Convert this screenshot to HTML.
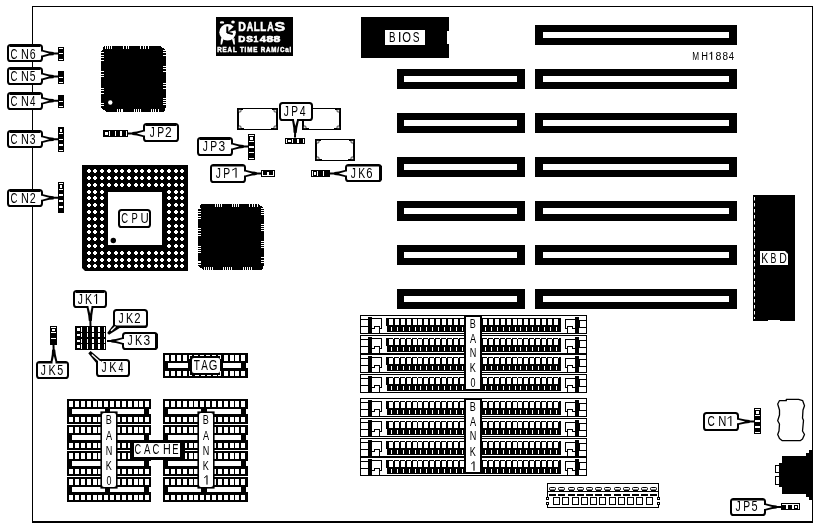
<!DOCTYPE html>
<html><head><meta charset="utf-8"><style>
html,body{margin:0;padding:0;background:#fff;width:818px;height:527px;overflow:hidden}
svg{display:block;will-change:transform}
text{font-family:"Liberation Sans",sans-serif}
</style></head><body>
<svg width="818" height="527" viewBox="0 0 818 527">
<rect x="0" y="0" width="818" height="527" fill="#fff"/>
<rect x="32" y="6" width="781" height="1" fill="#000" />
<rect x="32" y="6" width="1" height="517" fill="#000" />
<rect x="812" y="6" width="1" height="517" fill="#000" />
<rect x="32" y="521" width="781" height="2" fill="#000" />
<rect x="535" y="25" width="202" height="20" fill="#000" />
<rect x="543" y="32" width="186" height="6" fill="#fff" />
<rect x="535" y="69" width="202" height="20" fill="#000" />
<rect x="543" y="76" width="186" height="6" fill="#fff" />
<rect x="397" y="69" width="128" height="20" fill="#000" />
<rect x="404" y="76" width="113" height="6" fill="#fff" />
<rect x="535" y="113" width="202" height="20" fill="#000" />
<rect x="543" y="120" width="186" height="6" fill="#fff" />
<rect x="397" y="113" width="128" height="20" fill="#000" />
<rect x="404" y="120" width="113" height="6" fill="#fff" />
<rect x="535" y="157" width="202" height="20" fill="#000" />
<rect x="543" y="164" width="186" height="6" fill="#fff" />
<rect x="397" y="157" width="128" height="20" fill="#000" />
<rect x="404" y="164" width="113" height="6" fill="#fff" />
<rect x="535" y="201" width="202" height="20" fill="#000" />
<rect x="543" y="208" width="186" height="6" fill="#fff" />
<rect x="397" y="201" width="128" height="20" fill="#000" />
<rect x="404" y="208" width="113" height="6" fill="#fff" />
<rect x="535" y="245" width="202" height="20" fill="#000" />
<rect x="543" y="252" width="186" height="6" fill="#fff" />
<rect x="397" y="245" width="128" height="20" fill="#000" />
<rect x="404" y="252" width="113" height="6" fill="#fff" />
<rect x="535" y="289" width="202" height="20" fill="#000" />
<rect x="543" y="296" width="186" height="6" fill="#fff" />
<rect x="397" y="289" width="128" height="20" fill="#000" />
<rect x="404" y="296" width="113" height="6" fill="#fff" />
<text transform="translate(692.33,59.80) scale(0.707,1)" font-size="11.63" fill="#000" >M</text>
<text transform="translate(701.14,59.80) scale(0.800,1)" font-size="11.63" fill="#000" >H</text>
<rect x="711.10" y="51.80" width="1.1" height="8.00" fill="#000"/>
<line x1="709.50" y1="54.20" x2="711.40" y2="52.20" stroke="#000" stroke-width="1"/>
<text transform="translate(715.54,59.80) scale(0.928,1)" font-size="11.46" fill="#000" >8</text>
<text transform="translate(722.57,59.80) scale(0.873,1)" font-size="11.46" fill="#000" >8</text>
<text transform="translate(728.78,59.80) scale(0.819,1)" font-size="11.63" fill="#000" >4</text>
<rect x="361" y="17" width="88" height="41" fill="#000" />
<rect x="447" y="31" width="2" height="13" fill="#fff" />
<rect x="385" y="30" width="40" height="15" fill="#fff" />
<text transform="translate(389.00,41.80) scale(0.679,1)" font-size="14.39" fill="#000" >B</text>
<text transform="translate(397.73,41.80) scale(0.961,1)" font-size="14.39" fill="#000" >I</text>
<text transform="translate(402.37,41.80) scale(0.795,1)" font-size="14.18" fill="#000" >O</text>
<text transform="translate(412.84,41.80) scale(0.711,1)" font-size="14.18" fill="#000" >S</text>
<rect x="216" y="17" width="77" height="39" fill="#000" />
<text transform="translate(238.29,30.50) scale(0.811,1)" font-size="13.08" fill="#fff" font-weight="bold" stroke="#fff" stroke-width="0.6">D</text>
<text transform="translate(246.78,30.50) scale(0.684,1)" font-size="13.08" fill="#fff" font-weight="bold" stroke="#fff" stroke-width="0.6">A</text>
<text transform="translate(253.85,30.50) scale(0.745,1)" font-size="13.08" fill="#fff" font-weight="bold" stroke="#fff" stroke-width="0.6">L</text>
<text transform="translate(260.35,30.50) scale(0.745,1)" font-size="13.08" fill="#fff" font-weight="bold" stroke="#fff" stroke-width="0.6">L</text>
<text transform="translate(267.28,30.50) scale(0.684,1)" font-size="13.08" fill="#fff" font-weight="bold" stroke="#fff" stroke-width="0.6">A</text>
<text transform="translate(274.54,30.50) scale(1.230,1)" font-size="12.89" fill="#fff" font-weight="bold" stroke="#fff" stroke-width="0.6">S</text>
<text transform="translate(238.34,41.60) scale(0.990,1)" font-size="9.88" fill="#fff" font-weight="bold" stroke="#fff" stroke-width="0.7">D</text>
<text transform="translate(246.21,41.60) scale(1.028,1)" font-size="9.74" fill="#fff" font-weight="bold" stroke="#fff" stroke-width="0.7">S</text>
<text transform="translate(253.46,41.60) scale(0.870,1)" font-size="9.88" fill="#fff" font-weight="bold" stroke="#fff" stroke-width="0.7">1</text>
<text transform="translate(259.83,41.60) scale(1.133,1)" font-size="9.88" fill="#fff" font-weight="bold" stroke="#fff" stroke-width="0.7">4</text>
<text transform="translate(266.61,41.60) scale(1.249,1)" font-size="9.74" fill="#fff" font-weight="bold" stroke="#fff" stroke-width="0.7">8</text>
<text transform="translate(273.61,41.60) scale(1.249,1)" font-size="9.74" fill="#fff" font-weight="bold" stroke="#fff" stroke-width="0.7">8</text>
<text transform="translate(217.3,51.7) scale(0.86,1)" font-size="7.2" font-weight="bold" fill="#fff" stroke="#fff" stroke-width="0.5" textLength="86" lengthAdjust="spacing">REAL TIME RAM/Cal</text>
<circle cx="227.6" cy="32.3" r="8.3" fill="#fff"/>
<polygon points="227.60,32.30 236.50,24.00 236.50,30.00" fill="#000" />
<rect x="226.3" y="26.5" width="2" height="6.5" fill="#000" />
<polygon points="227.00,31.50 233.00,33.00 232.50,35.00 227.00,33.50" fill="#000" />
<ellipse cx="222" cy="22.4" rx="2.2" ry="1.2" fill="#fff"/>
<ellipse cx="233" cy="22" rx="1.8" ry="1.5" fill="#fff"/>
<polygon points="221.00,38.00 223.50,39.00 222.00,44.50 220.50,44.50" fill="#fff" />
<polygon points="232.00,39.00 234.50,38.00 235.00,44.50 233.50,44.50" fill="#fff" />
<polygon points="104.00,46.00 160.00,46.00 163.00,48.00 166.00,50.00 166.00,107.00 164.00,112.00 107.00,112.00 104.00,110.00 101.00,108.00 101.00,51.00 103.00,49.00" fill="#000" shape-rendering="crispEdges"/>
<rect x="105" y="46" width="1" height="3" fill="#fff" />
<rect x="107" y="46" width="1" height="3" fill="#fff" />
<rect x="109" y="46" width="1" height="3" fill="#fff" />
<rect x="111" y="46" width="1" height="3" fill="#fff" />
<rect x="123" y="46" width="1" height="3" fill="#fff" />
<rect x="126" y="46" width="1" height="3" fill="#fff" />
<rect x="128" y="46" width="1" height="3" fill="#fff" />
<rect x="140" y="46" width="1" height="3" fill="#fff" />
<rect x="143" y="46" width="1" height="3" fill="#fff" />
<rect x="145" y="46" width="1" height="3" fill="#fff" />
<rect x="148" y="46" width="1" height="3" fill="#fff" />
<rect x="117" y="109" width="1" height="3" fill="#fff" />
<rect x="119" y="109" width="1" height="3" fill="#fff" />
<rect x="121" y="109" width="1" height="3" fill="#fff" />
<rect x="122" y="109" width="1" height="3" fill="#fff" />
<rect x="134" y="109" width="1" height="3" fill="#fff" />
<rect x="136" y="109" width="1" height="3" fill="#fff" />
<rect x="138" y="109" width="1" height="3" fill="#fff" />
<rect x="140" y="109" width="1" height="3" fill="#fff" />
<rect x="151" y="109" width="1" height="3" fill="#fff" />
<rect x="153" y="109" width="1" height="3" fill="#fff" />
<rect x="155" y="109" width="1" height="3" fill="#fff" />
<rect x="158" y="109" width="1" height="3" fill="#fff" />
<rect x="101" y="52" width="3" height="1" fill="#fff" />
<rect x="101" y="55" width="3" height="1" fill="#fff" />
<rect x="101" y="57" width="3" height="1" fill="#fff" />
<rect x="101" y="60" width="3" height="1" fill="#fff" />
<rect x="101" y="71" width="3" height="1" fill="#fff" />
<rect x="101" y="74" width="3" height="1" fill="#fff" />
<rect x="101" y="76" width="3" height="1" fill="#fff" />
<rect x="101" y="88" width="3" height="1" fill="#fff" />
<rect x="101" y="90" width="3" height="1" fill="#fff" />
<rect x="101" y="93" width="3" height="1" fill="#fff" />
<rect x="101" y="103" width="3" height="1" fill="#fff" />
<rect x="101" y="105" width="3" height="1" fill="#fff" />
<rect x="163" y="50" width="3" height="1" fill="#fff" />
<rect x="163" y="52" width="3" height="1" fill="#fff" />
<rect x="163" y="55" width="3" height="1" fill="#fff" />
<rect x="163" y="66" width="3" height="1" fill="#fff" />
<rect x="163" y="68" width="3" height="1" fill="#fff" />
<rect x="163" y="71" width="3" height="1" fill="#fff" />
<rect x="163" y="83" width="3" height="1" fill="#fff" />
<rect x="163" y="85" width="3" height="1" fill="#fff" />
<rect x="163" y="88" width="3" height="1" fill="#fff" />
<rect x="163" y="98" width="3" height="1" fill="#fff" />
<rect x="163" y="100" width="3" height="1" fill="#fff" />
<rect x="163" y="102" width="3" height="1" fill="#fff" />
<rect x="163" y="104" width="3" height="1" fill="#fff" />
<circle cx="110.3" cy="102.5" r="2.2" fill="#fff"/>
<polygon points="201.00,204.00 258.00,204.00 261.00,206.00 264.00,208.00 264.00,265.00 262.00,270.00 204.00,270.00 201.00,268.00 198.00,266.00 198.00,209.00 200.00,207.00" fill="#000" shape-rendering="crispEdges"/>
<rect x="215" y="204" width="1" height="3" fill="#fff" />
<rect x="217" y="204" width="1" height="3" fill="#fff" />
<rect x="219" y="204" width="1" height="3" fill="#fff" />
<rect x="221" y="204" width="1" height="3" fill="#fff" />
<rect x="232" y="204" width="1" height="3" fill="#fff" />
<rect x="234" y="204" width="1" height="3" fill="#fff" />
<rect x="236" y="204" width="1" height="3" fill="#fff" />
<rect x="238" y="204" width="1" height="3" fill="#fff" />
<rect x="249" y="204" width="1" height="3" fill="#fff" />
<rect x="252" y="204" width="1" height="3" fill="#fff" />
<rect x="254" y="204" width="1" height="3" fill="#fff" />
<rect x="257" y="204" width="1" height="3" fill="#fff" />
<rect x="204" y="267" width="1" height="3" fill="#fff" />
<rect x="206" y="267" width="1" height="3" fill="#fff" />
<rect x="208" y="267" width="1" height="3" fill="#fff" />
<rect x="210" y="267" width="1" height="3" fill="#fff" />
<rect x="212" y="267" width="1" height="3" fill="#fff" />
<rect x="223" y="267" width="1" height="3" fill="#fff" />
<rect x="225" y="267" width="1" height="3" fill="#fff" />
<rect x="227" y="267" width="1" height="3" fill="#fff" />
<rect x="229" y="267" width="1" height="3" fill="#fff" />
<rect x="231" y="267" width="1" height="3" fill="#fff" />
<rect x="243" y="267" width="1" height="3" fill="#fff" />
<rect x="245" y="267" width="1" height="3" fill="#fff" />
<rect x="247" y="267" width="1" height="3" fill="#fff" />
<rect x="249" y="267" width="1" height="3" fill="#fff" />
<rect x="251" y="267" width="1" height="3" fill="#fff" />
<rect x="198" y="208" width="3" height="1" fill="#fff" />
<rect x="198" y="211" width="3" height="1" fill="#fff" />
<rect x="198" y="213" width="3" height="1" fill="#fff" />
<rect x="198" y="216" width="3" height="1" fill="#fff" />
<rect x="198" y="218" width="3" height="1" fill="#fff" />
<rect x="198" y="228" width="3" height="1" fill="#fff" />
<rect x="198" y="230" width="3" height="1" fill="#fff" />
<rect x="198" y="233" width="3" height="1" fill="#fff" />
<rect x="198" y="235" width="3" height="1" fill="#fff" />
<rect x="198" y="246" width="3" height="1" fill="#fff" />
<rect x="198" y="248" width="3" height="1" fill="#fff" />
<rect x="198" y="250" width="3" height="1" fill="#fff" />
<rect x="198" y="252" width="3" height="1" fill="#fff" />
<rect x="198" y="261" width="3" height="1" fill="#fff" />
<rect x="198" y="262" width="3" height="1" fill="#fff" />
<rect x="198" y="264" width="3" height="1" fill="#fff" />
<rect x="261" y="208" width="3" height="1" fill="#fff" />
<rect x="261" y="210" width="3" height="1" fill="#fff" />
<rect x="261" y="212" width="3" height="1" fill="#fff" />
<rect x="261" y="214" width="3" height="1" fill="#fff" />
<rect x="261" y="224" width="3" height="1" fill="#fff" />
<rect x="261" y="226" width="3" height="1" fill="#fff" />
<rect x="261" y="228" width="3" height="1" fill="#fff" />
<rect x="261" y="230" width="3" height="1" fill="#fff" />
<rect x="261" y="241" width="3" height="1" fill="#fff" />
<rect x="261" y="243" width="3" height="1" fill="#fff" />
<rect x="261" y="245" width="3" height="1" fill="#fff" />
<rect x="261" y="247" width="3" height="1" fill="#fff" />
<rect x="261" y="257" width="3" height="1" fill="#fff" />
<rect x="261" y="260" width="3" height="1" fill="#fff" />
<rect x="261" y="262" width="3" height="1" fill="#fff" />
<rect x="82" y="165" width="106" height="106" fill="#000" />
<rect x="108" y="192" width="54" height="53" fill="#fff" />
<polygon points="81.50,267.50 85.50,271.50 81.50,271.50" fill="#fff" />
<path d="M87,170h4v2h-4z M88,169h2v4h-2z M87,177h4v2h-4z M88,176h2v4h-2z M87,184h4v2h-4z M88,183h2v4h-2z M87,191h4v2h-4z M88,190h2v4h-2z M87,197h4v2h-4z M88,196h2v4h-2z M87,204h4v2h-4z M88,203h2v4h-2z M87,211h4v2h-4z M88,210h2v4h-2z M87,218h4v2h-4z M88,217h2v4h-2z M87,225h4v2h-4z M88,224h2v4h-2z M87,231h4v2h-4z M88,230h2v4h-2z M87,238h4v2h-4z M88,237h2v4h-2z M87,245h4v2h-4z M88,244h2v4h-2z M87,252h4v2h-4z M88,251h2v4h-2z M87,259h4v2h-4z M88,258h2v4h-2z M87,265h4v2h-4z M88,264h2v4h-2z M93,170h4v2h-4z M94,169h2v4h-2z M93,177h4v2h-4z M94,176h2v4h-2z M93,184h4v2h-4z M94,183h2v4h-2z M93,191h4v2h-4z M94,190h2v4h-2z M93,197h4v2h-4z M94,196h2v4h-2z M93,204h4v2h-4z M94,203h2v4h-2z M93,211h4v2h-4z M94,210h2v4h-2z M93,218h4v2h-4z M94,217h2v4h-2z M93,225h4v2h-4z M94,224h2v4h-2z M93,231h4v2h-4z M94,230h2v4h-2z M93,238h4v2h-4z M94,237h2v4h-2z M93,245h4v2h-4z M94,244h2v4h-2z M93,252h4v2h-4z M94,251h2v4h-2z M93,259h4v2h-4z M94,258h2v4h-2z M93,265h4v2h-4z M94,264h2v4h-2z M100,170h4v2h-4z M101,169h2v4h-2z M100,177h4v2h-4z M101,176h2v4h-2z M100,184h4v2h-4z M101,183h2v4h-2z M100,191h4v2h-4z M101,190h2v4h-2z M100,197h4v2h-4z M101,196h2v4h-2z M100,204h4v2h-4z M101,203h2v4h-2z M100,211h4v2h-4z M101,210h2v4h-2z M100,218h4v2h-4z M101,217h2v4h-2z M100,225h4v2h-4z M101,224h2v4h-2z M100,231h4v2h-4z M101,230h2v4h-2z M100,238h4v2h-4z M101,237h2v4h-2z M100,245h4v2h-4z M101,244h2v4h-2z M100,252h4v2h-4z M101,251h2v4h-2z M100,259h4v2h-4z M101,258h2v4h-2z M100,265h4v2h-4z M101,264h2v4h-2z M107,170h4v2h-4z M108,169h2v4h-2z M107,177h4v2h-4z M108,176h2v4h-2z M107,184h4v2h-4z M108,183h2v4h-2z M107,252h4v2h-4z M108,251h2v4h-2z M107,259h4v2h-4z M108,258h2v4h-2z M107,265h4v2h-4z M108,264h2v4h-2z M114,170h4v2h-4z M115,169h2v4h-2z M114,177h4v2h-4z M115,176h2v4h-2z M114,184h4v2h-4z M115,183h2v4h-2z M114,252h4v2h-4z M115,251h2v4h-2z M114,259h4v2h-4z M115,258h2v4h-2z M114,265h4v2h-4z M115,264h2v4h-2z M120,170h4v2h-4z M121,169h2v4h-2z M120,177h4v2h-4z M121,176h2v4h-2z M120,184h4v2h-4z M121,183h2v4h-2z M120,252h4v2h-4z M121,251h2v4h-2z M120,259h4v2h-4z M121,258h2v4h-2z M120,265h4v2h-4z M121,264h2v4h-2z M127,170h4v2h-4z M128,169h2v4h-2z M127,177h4v2h-4z M128,176h2v4h-2z M127,184h4v2h-4z M128,183h2v4h-2z M127,252h4v2h-4z M128,251h2v4h-2z M127,259h4v2h-4z M128,258h2v4h-2z M127,265h4v2h-4z M128,264h2v4h-2z M134,170h4v2h-4z M135,169h2v4h-2z M134,177h4v2h-4z M135,176h2v4h-2z M134,184h4v2h-4z M135,183h2v4h-2z M134,252h4v2h-4z M135,251h2v4h-2z M134,259h4v2h-4z M135,258h2v4h-2z M134,265h4v2h-4z M135,264h2v4h-2z M140,170h4v2h-4z M141,169h2v4h-2z M140,177h4v2h-4z M141,176h2v4h-2z M140,184h4v2h-4z M141,183h2v4h-2z M140,252h4v2h-4z M141,251h2v4h-2z M140,259h4v2h-4z M141,258h2v4h-2z M140,265h4v2h-4z M141,264h2v4h-2z M147,170h4v2h-4z M148,169h2v4h-2z M147,177h4v2h-4z M148,176h2v4h-2z M147,184h4v2h-4z M148,183h2v4h-2z M147,252h4v2h-4z M148,251h2v4h-2z M147,259h4v2h-4z M148,258h2v4h-2z M147,265h4v2h-4z M148,264h2v4h-2z M154,170h4v2h-4z M155,169h2v4h-2z M154,177h4v2h-4z M155,176h2v4h-2z M154,184h4v2h-4z M155,183h2v4h-2z M154,252h4v2h-4z M155,251h2v4h-2z M154,259h4v2h-4z M155,258h2v4h-2z M154,265h4v2h-4z M155,264h2v4h-2z M160,170h4v2h-4z M161,169h2v4h-2z M160,177h4v2h-4z M161,176h2v4h-2z M160,184h4v2h-4z M161,183h2v4h-2z M160,252h4v2h-4z M161,251h2v4h-2z M160,259h4v2h-4z M161,258h2v4h-2z M160,265h4v2h-4z M161,264h2v4h-2z M167,170h4v2h-4z M168,169h2v4h-2z M167,177h4v2h-4z M168,176h2v4h-2z M167,184h4v2h-4z M168,183h2v4h-2z M167,191h4v2h-4z M168,190h2v4h-2z M167,197h4v2h-4z M168,196h2v4h-2z M167,204h4v2h-4z M168,203h2v4h-2z M167,211h4v2h-4z M168,210h2v4h-2z M167,218h4v2h-4z M168,217h2v4h-2z M167,225h4v2h-4z M168,224h2v4h-2z M167,231h4v2h-4z M168,230h2v4h-2z M167,238h4v2h-4z M168,237h2v4h-2z M167,245h4v2h-4z M168,244h2v4h-2z M167,252h4v2h-4z M168,251h2v4h-2z M167,259h4v2h-4z M168,258h2v4h-2z M167,265h4v2h-4z M168,264h2v4h-2z M174,170h4v2h-4z M175,169h2v4h-2z M174,177h4v2h-4z M175,176h2v4h-2z M174,184h4v2h-4z M175,183h2v4h-2z M174,191h4v2h-4z M175,190h2v4h-2z M174,197h4v2h-4z M175,196h2v4h-2z M174,204h4v2h-4z M175,203h2v4h-2z M174,211h4v2h-4z M175,210h2v4h-2z M174,218h4v2h-4z M175,217h2v4h-2z M174,225h4v2h-4z M175,224h2v4h-2z M174,231h4v2h-4z M175,230h2v4h-2z M174,238h4v2h-4z M175,237h2v4h-2z M174,245h4v2h-4z M175,244h2v4h-2z M174,252h4v2h-4z M175,251h2v4h-2z M174,259h4v2h-4z M175,258h2v4h-2z M174,265h4v2h-4z M175,264h2v4h-2z M180,170h4v2h-4z M181,169h2v4h-2z M180,177h4v2h-4z M181,176h2v4h-2z M180,184h4v2h-4z M181,183h2v4h-2z M180,191h4v2h-4z M181,190h2v4h-2z M180,197h4v2h-4z M181,196h2v4h-2z M180,204h4v2h-4z M181,203h2v4h-2z M180,211h4v2h-4z M181,210h2v4h-2z M180,218h4v2h-4z M181,217h2v4h-2z M180,225h4v2h-4z M181,224h2v4h-2z M180,231h4v2h-4z M181,230h2v4h-2z M180,238h4v2h-4z M181,237h2v4h-2z M180,245h4v2h-4z M181,244h2v4h-2z M180,252h4v2h-4z M181,251h2v4h-2z M180,259h4v2h-4z M181,258h2v4h-2z M180,265h4v2h-4z M181,264h2v4h-2z" fill="#fff" shape-rendering="crispEdges"/>
<circle cx="113.3" cy="240.5" r="2.7" fill="#000"/>
<rect x="119" y="210" width="31" height="17" rx="2.6" ry="2.6" fill="#fff" stroke="#000" stroke-width="2"/>
<text transform="translate(121.22,223.00) scale(0.668,1)" font-size="14.18" fill="#000" >C</text>
<text transform="translate(131.53,223.00) scale(0.653,1)" font-size="14.39" fill="#000" >P</text>
<text transform="translate(140.42,223.00) scale(0.795,1)" font-size="14.39" fill="#000" >U</text>
<rect x="58" y="47" width="6" height="14" fill="#000" />
<rect x="59" y="48" width="4" height="1" fill="#fff" />
<rect x="59" y="53" width="4" height="1" fill="#fff" />
<rect x="59" y="59" width="4" height="1" fill="#fff" />
<rect x="58" y="71" width="6" height="13" fill="#000" />
<rect x="59" y="77" width="4" height="1" fill="#fff" />
<rect x="59" y="82" width="4" height="1" fill="#fff" />
<rect x="58" y="95" width="6" height="13" fill="#000" />
<rect x="59" y="101" width="4" height="1" fill="#fff" />
<rect x="59" y="106" width="4" height="1" fill="#fff" />
<rect x="58" y="127" width="6" height="25" fill="#000" />
<rect x="60" y="129" width="2" height="3" fill="#fff" />
<rect x="59" y="133" width="4" height="1" fill="#fff" />
<rect x="59" y="139" width="4" height="1" fill="#fff" />
<rect x="59" y="144" width="4" height="2" fill="#fff" />
<rect x="59" y="150" width="4" height="1" fill="#fff" />
<rect x="58" y="182" width="6" height="31" fill="#000" />
<rect x="59" y="183" width="4" height="1" fill="#fff" />
<rect x="60" y="185" width="2" height="3" fill="#fff" />
<rect x="59" y="189" width="4" height="1" fill="#fff" />
<rect x="59" y="194" width="4" height="2" fill="#fff" />
<rect x="59" y="200" width="4" height="2" fill="#fff" />
<rect x="59" y="206" width="4" height="2" fill="#fff" />
<rect x="8" y="45" width="34" height="16" rx="2.6" ry="2.6" fill="#fff" stroke="#000" stroke-width="2"/>
<rect x="10" y="44" width="30" height="3" fill="#000" />
<polygon points="42.00,49.80 49.20,51.60 53.52,52.00 53.84,52.60 58.00,52.60 58.00,54.60 53.84,54.60 53.52,55.20 49.20,55.60 42.00,57.40" fill="#000" />
<polygon points="39.50,51.60 42.00,51.60 49.20,53.60 42.00,55.60 39.50,55.60" fill="#fff" />
<text transform="translate(10.41,58.90) scale(0.679,1)" font-size="14.18" fill="#000" >C</text>
<text transform="translate(21.01,58.90) scale(0.758,1)" font-size="14.39" fill="#000" >N</text>
<text transform="translate(29.66,58.90) scale(0.749,1)" font-size="14.18" fill="#000" >6</text>
<rect x="8" y="68" width="34" height="16" rx="2.6" ry="2.6" fill="#fff" stroke="#000" stroke-width="2"/>
<rect x="10" y="67" width="30" height="3" fill="#000" />
<polygon points="42.00,72.80 49.20,74.60 53.52,75.00 53.84,75.60 58.00,75.60 58.00,77.60 53.84,77.60 53.52,78.20 49.20,78.60 42.00,80.40" fill="#000" />
<polygon points="39.50,74.60 42.00,74.60 49.20,76.60 42.00,78.60 39.50,78.60" fill="#fff" />
<text transform="translate(10.41,81.40) scale(0.679,1)" font-size="14.18" fill="#000" >C</text>
<text transform="translate(21.01,81.40) scale(0.758,1)" font-size="14.39" fill="#000" >N</text>
<text transform="translate(29.79,81.40) scale(0.718,1)" font-size="14.39" fill="#000" >5</text>
<rect x="8" y="93" width="34" height="16" rx="2.6" ry="2.6" fill="#fff" stroke="#000" stroke-width="2"/>
<rect x="10" y="92" width="30" height="3" fill="#000" />
<polygon points="42.00,96.90 49.20,98.70 53.52,99.10 53.84,99.70 58.00,99.70 58.00,101.70 53.84,101.70 53.52,102.30 49.20,102.70 42.00,104.50" fill="#000" />
<polygon points="39.50,98.70 42.00,98.70 49.20,100.70 42.00,102.70 39.50,102.70" fill="#fff" />
<text transform="translate(10.41,105.80) scale(0.679,1)" font-size="14.18" fill="#000" >C</text>
<text transform="translate(21.01,105.80) scale(0.758,1)" font-size="14.39" fill="#000" >N</text>
<text transform="translate(29.98,105.80) scale(0.676,1)" font-size="14.39" fill="#000" >4</text>
<rect x="8" y="131" width="34" height="16" rx="2.6" ry="2.6" fill="#fff" stroke="#000" stroke-width="2"/>
<rect x="10" y="130" width="30" height="3" fill="#000" />
<polygon points="42.00,135.50 49.20,137.30 53.52,137.70 53.84,138.30 58.00,138.30 58.00,140.30 53.84,140.30 53.52,140.90 49.20,141.30 42.00,143.10" fill="#000" />
<polygon points="39.50,137.30 42.00,137.30 49.20,139.30 42.00,141.30 39.50,141.30" fill="#fff" />
<text transform="translate(10.41,143.50) scale(0.679,1)" font-size="14.18" fill="#000" >C</text>
<text transform="translate(21.01,143.50) scale(0.758,1)" font-size="14.39" fill="#000" >N</text>
<text transform="translate(29.81,143.50) scale(0.729,1)" font-size="14.18" fill="#000" >3</text>
<rect x="8" y="190" width="34" height="16" rx="2.6" ry="2.6" fill="#fff" stroke="#000" stroke-width="2"/>
<rect x="10" y="189" width="30" height="3" fill="#000" />
<polygon points="42.00,194.00 49.20,195.80 53.52,196.20 53.84,196.80 58.00,196.80 58.00,198.80 53.84,198.80 53.52,199.40 49.20,199.80 42.00,201.60" fill="#000" />
<polygon points="39.50,195.80 42.00,195.80 49.20,197.80 42.00,199.80 39.50,199.80" fill="#fff" />
<text transform="translate(10.41,202.70) scale(0.679,1)" font-size="14.18" fill="#000" >C</text>
<text transform="translate(21.01,202.70) scale(0.758,1)" font-size="14.39" fill="#000" >N</text>
<text transform="translate(29.66,202.70) scale(0.758,1)" font-size="14.18" fill="#000" >2</text>
<rect x="103" y="130" width="25" height="7" fill="#000" />
<rect x="105" y="132" width="3" height="3" fill="#fff" />
<rect x="109" y="131" width="1" height="5" fill="#fff" />
<rect x="115" y="131" width="1" height="5" fill="#fff" />
<rect x="120" y="131" width="2" height="5" fill="#fff" />
<rect x="126" y="131" width="1" height="5" fill="#fff" />
<rect x="144" y="124" width="34" height="17" rx="2.6" ry="2.6" fill="#fff" stroke="#000" stroke-width="2"/>
<rect x="146" y="123" width="30" height="3" fill="#000" />
<polygon points="144.00,137.30 136.80,135.50 132.48,135.10 132.16,134.50 128.00,134.50 128.00,132.50 132.16,132.50 132.48,131.90 136.80,131.50 144.00,129.70" fill="#000" />
<polygon points="146.50,135.50 144.00,135.50 136.80,133.50 144.00,131.50 146.50,131.50" fill="#fff" />
<text transform="translate(149.74,136.80) scale(0.695,1)" font-size="14.39" fill="#000" >J</text>
<text transform="translate(157.15,136.80) scale(0.718,1)" font-size="14.39" fill="#000" >P</text>
<text transform="translate(164.90,136.80) scale(0.850,1)" font-size="14.18" fill="#000" >2</text>
<rect x="237.5" y="108.5" width="40" height="21" fill="none" stroke="#000" stroke-width="1" rx="0" />
<rect x="238" y="109" width="1" height="20" fill="#000" />
<rect x="276" y="109" width="1" height="20" fill="#000" />
<rect x="238" y="109" width="5" height="1" fill="#000" />
<rect x="272" y="109" width="5" height="1" fill="#000" />
<rect x="238" y="128" width="6" height="1" fill="#000" />
<rect x="271" y="128" width="6" height="1" fill="#000" />
<circle cx="239.8" cy="110.8" r="1.3" fill="#fff" stroke="#000" stroke-width="0.7"/>
<circle cx="275.2" cy="110.8" r="1.3" fill="#fff" stroke="#000" stroke-width="0.7"/>
<circle cx="239.8" cy="127.2" r="1.3" fill="#fff" stroke="#000" stroke-width="0.7"/>
<circle cx="275.2" cy="127.2" r="1.3" fill="#fff" stroke="#000" stroke-width="0.7"/>
<rect x="302.5" y="108.5" width="38" height="21" fill="none" stroke="#000" stroke-width="1" rx="0" />
<rect x="303" y="109" width="1" height="20" fill="#000" />
<rect x="339" y="109" width="1" height="20" fill="#000" />
<rect x="303" y="109" width="5" height="1" fill="#000" />
<rect x="335" y="109" width="5" height="1" fill="#000" />
<rect x="303" y="128" width="6" height="1" fill="#000" />
<rect x="334" y="128" width="6" height="1" fill="#000" />
<circle cx="304.8" cy="110.8" r="1.3" fill="#fff" stroke="#000" stroke-width="0.7"/>
<circle cx="338.2" cy="110.8" r="1.3" fill="#fff" stroke="#000" stroke-width="0.7"/>
<circle cx="304.8" cy="127.2" r="1.3" fill="#fff" stroke="#000" stroke-width="0.7"/>
<circle cx="338.2" cy="127.2" r="1.3" fill="#fff" stroke="#000" stroke-width="0.7"/>
<rect x="315.5" y="139.5" width="39" height="21" fill="none" stroke="#000" stroke-width="1" rx="0" />
<rect x="316" y="140" width="1" height="20" fill="#000" />
<rect x="353" y="140" width="1" height="20" fill="#000" />
<rect x="316" y="140" width="5" height="1" fill="#000" />
<rect x="349" y="140" width="5" height="1" fill="#000" />
<rect x="316" y="159" width="6" height="1" fill="#000" />
<rect x="348" y="159" width="6" height="1" fill="#000" />
<circle cx="317.8" cy="141.8" r="1.3" fill="#fff" stroke="#000" stroke-width="0.7"/>
<circle cx="352.2" cy="141.8" r="1.3" fill="#fff" stroke="#000" stroke-width="0.7"/>
<circle cx="317.8" cy="158.2" r="1.3" fill="#fff" stroke="#000" stroke-width="0.7"/>
<circle cx="352.2" cy="158.2" r="1.3" fill="#fff" stroke="#000" stroke-width="0.7"/>
<rect x="285" y="138" width="20" height="6" fill="#000" />
<rect x="286" y="139" width="1" height="4" fill="#fff" />
<rect x="288" y="140" width="3" height="2" fill="#fff" />
<rect x="292" y="139" width="1" height="4" fill="#fff" />
<rect x="297" y="139" width="2" height="4" fill="#fff" />
<rect x="303" y="139" width="1" height="4" fill="#fff" />
<rect x="280" y="103" width="32" height="17" rx="2.6" ry="2.6" fill="#fff" stroke="#000" stroke-width="2"/>
<polygon points="299.00,120.10 297.27,127.93 296.74,132.65 296.13,132.98 296.00,137.53 294.00,137.47 294.13,132.92 293.54,132.55 293.28,127.82 292.00,119.90" fill="#000" />
<polygon points="297.07,117.54 297.00,120.04 295.32,126.12 294.00,119.96 294.07,117.46" fill="#fff" />
<text transform="translate(283.84,115.90) scale(0.712,1)" font-size="14.39" fill="#000" >J</text>
<text transform="translate(291.27,115.90) scale(0.705,1)" font-size="14.39" fill="#000" >P</text>
<text transform="translate(299.66,115.90) scale(0.731,1)" font-size="14.39" fill="#000" >4</text>
<rect x="248" y="134" width="7" height="26" fill="#000" />
<rect x="249" y="135" width="5" height="1" fill="#fff" />
<rect x="250" y="137" width="3" height="3" fill="#fff" />
<rect x="249" y="141" width="5" height="1" fill="#fff" />
<rect x="249" y="146" width="5" height="2" fill="#fff" />
<rect x="249" y="152" width="5" height="1" fill="#fff" />
<rect x="249" y="158" width="5" height="1" fill="#fff" />
<rect x="198" y="138" width="34" height="17" rx="2.6" ry="2.6" fill="#fff" stroke="#000" stroke-width="2"/>
<rect x="200" y="137" width="30" height="3" fill="#000" />
<polygon points="232.00,142.70 239.20,144.50 243.52,144.90 243.84,145.50 248.00,145.50 248.00,147.50 243.84,147.50 243.52,148.10 239.20,148.50 232.00,150.30" fill="#000" />
<polygon points="229.50,144.50 232.00,144.50 239.20,146.50 232.00,148.50 229.50,148.50" fill="#fff" />
<text transform="translate(202.64,151.20) scale(0.712,1)" font-size="14.39" fill="#000" >J</text>
<text transform="translate(210.25,151.20) scale(0.718,1)" font-size="14.39" fill="#000" >P</text>
<text transform="translate(218.44,151.20) scale(0.848,1)" font-size="14.18" fill="#000" >3</text>
<rect x="261" y="170" width="14" height="7" fill="#000" />
<rect x="262" y="171" width="1" height="5" fill="#fff" />
<rect x="262" y="175" width="12" height="1" fill="#fff" />
<rect x="267" y="172" width="2" height="3" fill="#fff" />
<rect x="273" y="171" width="1" height="5" fill="#fff" />
<rect x="211" y="165" width="34" height="17" rx="2.6" ry="2.6" fill="#fff" stroke="#000" stroke-width="2"/>
<rect x="213" y="164" width="30" height="2.5" fill="#000" />
<polygon points="245.00,169.70 252.20,171.50 256.52,171.90 256.84,172.50 261.00,172.50 261.00,174.50 256.84,174.50 256.52,175.10 252.20,175.50 245.00,177.30" fill="#000" />
<polygon points="242.50,171.50 245.00,171.50 252.20,173.50 245.00,175.50 242.50,175.50" fill="#fff" />
<text transform="translate(215.64,177.70) scale(0.712,1)" font-size="14.39" fill="#000" >J</text>
<text transform="translate(223.25,177.70) scale(0.718,1)" font-size="14.39" fill="#000" >P</text>
<rect x="235.50" y="167.80" width="1.1" height="9.90" fill="#000"/>
<line x1="232.10" y1="170.20" x2="235.80" y2="168.20" stroke="#000" stroke-width="1"/>
<rect x="311" y="170" width="19" height="7" fill="#000" />
<rect x="312" y="171" width="1" height="5" fill="#fff" />
<rect x="314" y="172" width="2" height="3" fill="#fff" />
<rect x="317" y="171" width="1" height="5" fill="#fff" />
<rect x="323" y="171" width="1" height="5" fill="#fff" />
<rect x="346" y="165" width="35" height="16" rx="2.6" ry="2.6" fill="#fff" stroke="#000" stroke-width="2"/>
<rect x="348" y="164" width="31" height="2.5" fill="#000" />
<rect x="379" y="166" width="3" height="14" fill="#000" />
<polygon points="346.00,177.30 338.80,175.50 334.48,175.10 334.16,174.50 330.00,174.50 330.00,172.50 334.16,172.50 334.48,171.90 338.80,171.50 346.00,169.70" fill="#000" />
<polygon points="348.50,175.50 346.00,175.50 338.80,173.50 346.00,171.50 348.50,171.50" fill="#fff" />
<text transform="translate(350.84,178.00) scale(0.712,1)" font-size="14.39" fill="#000" >J</text>
<text transform="translate(358.14,178.00) scale(0.728,1)" font-size="14.39" fill="#000" >K</text>
<text transform="translate(366.32,178.00) scale(0.795,1)" font-size="14.18" fill="#000" >6</text>
<rect x="75" y="326" width="31" height="24" fill="#000" />
<rect x="77" y="328" width="3" height="3" fill="#fff" />
<rect x="81" y="327" width="1" height="5" fill="#fff" />
<rect x="87" y="327" width="1" height="5" fill="#fff" />
<rect x="92" y="327" width="2" height="5" fill="#fff" />
<rect x="98" y="327" width="2" height="5" fill="#fff" />
<rect x="104" y="327" width="1" height="5" fill="#fff" />
<rect x="77" y="334" width="3" height="2" fill="#fff" />
<rect x="81" y="333" width="1" height="4" fill="#fff" />
<rect x="87" y="333" width="1" height="4" fill="#fff" />
<rect x="92" y="333" width="2" height="4" fill="#fff" />
<rect x="98" y="333" width="2" height="4" fill="#fff" />
<rect x="104" y="333" width="1" height="4" fill="#fff" />
<rect x="77" y="340" width="3" height="2" fill="#fff" />
<rect x="81" y="339" width="1" height="4" fill="#fff" />
<rect x="87" y="339" width="1" height="4" fill="#fff" />
<rect x="92" y="339" width="2" height="4" fill="#fff" />
<rect x="98" y="339" width="2" height="4" fill="#fff" />
<rect x="104" y="339" width="1" height="4" fill="#fff" />
<rect x="77" y="345" width="3" height="3" fill="#fff" />
<rect x="81" y="344" width="1" height="5" fill="#fff" />
<rect x="87" y="344" width="1" height="5" fill="#fff" />
<rect x="92" y="344" width="2" height="5" fill="#fff" />
<rect x="98" y="344" width="2" height="5" fill="#fff" />
<rect x="104" y="344" width="1" height="5" fill="#fff" />
<rect x="74" y="291" width="32" height="16" rx="2.6" ry="2.6" fill="#fff" stroke="#000" stroke-width="2"/>
<rect x="76" y="290" width="28" height="3" fill="#000" />
<polygon points="93.50,306.91 92.22,315.50 91.96,320.64 91.37,321.03 91.50,325.97 89.50,326.03 89.37,321.09 88.76,320.72 88.23,315.60 86.50,307.09" fill="#000" />
<polygon points="91.43,304.46 91.50,306.96 90.17,313.65 88.50,307.04 88.43,304.54" fill="#fff" />
<text transform="translate(77.64,303.90) scale(0.712,1)" font-size="14.39" fill="#000" >J</text>
<text transform="translate(85.03,303.90) scale(0.740,1)" font-size="14.39" fill="#000" >K</text>
<rect x="96.00" y="294.00" width="1.1" height="9.90" fill="#000"/>
<line x1="94.20" y1="296.40" x2="96.30" y2="294.40" stroke="#000" stroke-width="1"/>
<rect x="114" y="310" width="33" height="17" rx="2.6" ry="2.6" fill="#fff" stroke="#000" stroke-width="2"/>
<rect x="115" y="325.5" width="31" height="2.5" fill="#000" />
<polygon points="113.50,324.50 120.50,327.50 109.00,334.80 107.20,333.00" fill="#000" />
<line x1="115.5" y1="326.5" x2="111" y2="330.8" stroke="#fff" stroke-width="1.2"/>
<text transform="translate(118.54,322.80) scale(0.712,1)" font-size="14.39" fill="#000" >J</text>
<text transform="translate(125.91,322.80) scale(0.752,1)" font-size="14.39" fill="#000" >K</text>
<text transform="translate(134.23,322.80) scale(0.804,1)" font-size="14.18" fill="#000" >2</text>
<rect x="123" y="333" width="34" height="16" rx="2.6" ry="2.6" fill="#fff" stroke="#000" stroke-width="2"/>
<rect x="155" y="334" width="3" height="14" fill="#000" />
<polygon points="123.00,344.80 115.80,343.00 111.48,342.60 111.16,342.00 107.00,342.00 107.00,340.00 111.16,340.00 111.48,339.40 115.80,339.00 123.00,337.20" fill="#000" />
<polygon points="125.50,343.00 123.00,343.00 115.80,341.00 123.00,339.00 125.50,339.00" fill="#fff" />
<text transform="translate(127.54,344.70) scale(0.712,1)" font-size="14.39" fill="#000" >J</text>
<text transform="translate(134.91,344.70) scale(0.752,1)" font-size="14.39" fill="#000" >K</text>
<text transform="translate(143.44,344.70) scale(0.848,1)" font-size="14.18" fill="#000" >3</text>
<rect x="97" y="360" width="32" height="16" rx="2.6" ry="2.6" fill="#fff" stroke="#000" stroke-width="2"/>
<polygon points="88.30,353.20 90.60,351.00 101.50,360.20 101.50,362.00 97.00,362.00 97.00,364.00" fill="#000" />
<line x1="91.8" y1="354.6" x2="99.5" y2="361.6" stroke="#fff" stroke-width="1.3"/>
<rect x="98" y="361" width="3" height="2" fill="#fff" />
<text transform="translate(101.44,372.10) scale(0.712,1)" font-size="14.39" fill="#000" >J</text>
<text transform="translate(109.31,372.10) scale(0.752,1)" font-size="14.39" fill="#000" >K</text>
<text transform="translate(118.40,372.10) scale(0.607,1)" font-size="14.39" fill="#000" >4</text>
<rect x="50" y="326" width="7" height="19" fill="#000" />
<rect x="51" y="327" width="5" height="1" fill="#fff" />
<rect x="52" y="329" width="3" height="2" fill="#fff" />
<rect x="51" y="332" width="5" height="1" fill="#fff" />
<rect x="51" y="338" width="5" height="1" fill="#fff" />
<rect x="37" y="362" width="31" height="16" rx="2.6" ry="2.6" fill="#fff" stroke="#000" stroke-width="2"/>
<rect x="39" y="361" width="27" height="2.5" fill="#000" />
<polygon points="50.50,362.10 51.78,354.41 52.04,349.81 52.63,349.45 52.50,345.03 54.50,344.97 54.63,349.39 55.24,349.71 55.77,354.29 57.50,361.90" fill="#000" />
<polygon points="52.57,364.54 52.50,362.04 53.83,356.05 55.50,361.96 55.57,364.45" fill="#fff" />
<text transform="translate(40.74,374.70) scale(0.712,1)" font-size="14.39" fill="#000" >J</text>
<text transform="translate(48.41,374.70) scale(0.752,1)" font-size="14.39" fill="#000" >K</text>
<text transform="translate(57.17,374.70) scale(0.748,1)" font-size="14.39" fill="#000" >5</text>
<rect x="163" y="353" width="85" height="25" fill="#000" />
<rect x="165" y="355" width="4" height="6" fill="#fff" />
<rect x="165" y="371" width="4" height="5" fill="#fff" />
<rect x="171" y="355" width="4" height="6" fill="#fff" />
<rect x="171" y="371" width="4" height="5" fill="#fff" />
<rect x="177" y="355" width="4" height="6" fill="#fff" />
<rect x="177" y="371" width="4" height="5" fill="#fff" />
<rect x="183" y="355" width="4" height="6" fill="#fff" />
<rect x="183" y="371" width="4" height="5" fill="#fff" />
<rect x="189" y="355" width="4" height="6" fill="#fff" />
<rect x="189" y="371" width="4" height="5" fill="#fff" />
<rect x="194" y="355" width="4" height="6" fill="#fff" />
<rect x="194" y="371" width="4" height="5" fill="#fff" />
<rect x="200" y="355" width="4" height="6" fill="#fff" />
<rect x="200" y="371" width="4" height="5" fill="#fff" />
<rect x="206" y="355" width="4" height="6" fill="#fff" />
<rect x="206" y="371" width="4" height="5" fill="#fff" />
<rect x="212" y="355" width="4" height="6" fill="#fff" />
<rect x="212" y="371" width="4" height="5" fill="#fff" />
<rect x="218" y="355" width="4" height="6" fill="#fff" />
<rect x="218" y="371" width="4" height="5" fill="#fff" />
<rect x="224" y="355" width="4" height="6" fill="#fff" />
<rect x="224" y="371" width="4" height="5" fill="#fff" />
<rect x="230" y="355" width="4" height="6" fill="#fff" />
<rect x="230" y="371" width="4" height="5" fill="#fff" />
<rect x="235" y="355" width="4" height="6" fill="#fff" />
<rect x="235" y="371" width="4" height="5" fill="#fff" />
<rect x="241" y="355" width="4" height="6" fill="#fff" />
<rect x="241" y="371" width="4" height="5" fill="#fff" />
<rect x="168" y="363" width="73" height="5" fill="#fff" />
<rect x="246" y="363" width="2" height="5" fill="#fff" />
<rect x="188" y="354" width="35" height="23" fill="#000" />
<rect x="194" y="355" width="4" height="1" fill="#fff" />
<rect x="195" y="375" width="4" height="1" fill="#fff" />
<rect x="200" y="355" width="4" height="1" fill="#fff" />
<rect x="201" y="375" width="4" height="1" fill="#fff" />
<rect x="206" y="355" width="4" height="1" fill="#fff" />
<rect x="207" y="375" width="4" height="1" fill="#fff" />
<rect x="212" y="355" width="4" height="1" fill="#fff" />
<rect x="213" y="375" width="4" height="1" fill="#fff" />
<rect x="189" y="355" width="3" height="1" fill="#fff" />
<rect x="189" y="355" width="1" height="4" fill="#fff" />
<rect x="218" y="355" width="3" height="1" fill="#fff" />
<rect x="220" y="355" width="1" height="4" fill="#fff" />
<rect x="189" y="375" width="3" height="1" fill="#fff" />
<rect x="189" y="371" width="1" height="4" fill="#fff" />
<rect x="218" y="375" width="3" height="1" fill="#fff" />
<rect x="220" y="371" width="1" height="4" fill="#fff" />
<rect x="192" y="358" width="28" height="15" rx="2" fill="#fff"/>
<text transform="translate(193.68,370.00) scale(0.700,1)" font-size="14.39" fill="#000" >T</text>
<text transform="translate(201.18,370.00) scale(0.692,1)" font-size="14.39" fill="#000" >A</text>
<text transform="translate(208.84,370.00) scale(0.788,1)" font-size="14.18" fill="#000" >G</text>
<rect x="67" y="399" width="84" height="25" fill="#000" />
<rect x="69" y="401" width="4" height="6" fill="#fff" />
<rect x="69" y="417" width="4" height="5" fill="#fff" />
<rect x="75" y="401" width="4" height="6" fill="#fff" />
<rect x="75" y="417" width="4" height="5" fill="#fff" />
<rect x="81" y="401" width="4" height="6" fill="#fff" />
<rect x="81" y="417" width="4" height="5" fill="#fff" />
<rect x="87" y="401" width="4" height="6" fill="#fff" />
<rect x="87" y="417" width="4" height="5" fill="#fff" />
<rect x="93" y="401" width="4" height="6" fill="#fff" />
<rect x="93" y="417" width="4" height="5" fill="#fff" />
<rect x="98" y="401" width="4" height="6" fill="#fff" />
<rect x="98" y="417" width="4" height="5" fill="#fff" />
<rect x="104" y="401" width="4" height="6" fill="#fff" />
<rect x="104" y="417" width="4" height="5" fill="#fff" />
<rect x="110" y="401" width="4" height="6" fill="#fff" />
<rect x="110" y="417" width="4" height="5" fill="#fff" />
<rect x="116" y="401" width="4" height="6" fill="#fff" />
<rect x="116" y="417" width="4" height="5" fill="#fff" />
<rect x="122" y="401" width="4" height="6" fill="#fff" />
<rect x="122" y="417" width="4" height="5" fill="#fff" />
<rect x="128" y="401" width="4" height="6" fill="#fff" />
<rect x="128" y="417" width="4" height="5" fill="#fff" />
<rect x="134" y="401" width="4" height="6" fill="#fff" />
<rect x="134" y="417" width="4" height="5" fill="#fff" />
<rect x="139" y="401" width="4" height="6" fill="#fff" />
<rect x="139" y="417" width="4" height="5" fill="#fff" />
<rect x="145" y="401" width="4" height="6" fill="#fff" />
<rect x="145" y="417" width="4" height="5" fill="#fff" />
<rect x="72" y="409" width="72" height="5" fill="#fff" />
<rect x="149" y="409" width="2" height="5" fill="#fff" />
<rect x="67" y="425" width="84" height="25" fill="#000" />
<rect x="69" y="427" width="4" height="6" fill="#fff" />
<rect x="69" y="443" width="4" height="5" fill="#fff" />
<rect x="75" y="427" width="4" height="6" fill="#fff" />
<rect x="75" y="443" width="4" height="5" fill="#fff" />
<rect x="81" y="427" width="4" height="6" fill="#fff" />
<rect x="81" y="443" width="4" height="5" fill="#fff" />
<rect x="87" y="427" width="4" height="6" fill="#fff" />
<rect x="87" y="443" width="4" height="5" fill="#fff" />
<rect x="93" y="427" width="4" height="6" fill="#fff" />
<rect x="93" y="443" width="4" height="5" fill="#fff" />
<rect x="98" y="427" width="4" height="6" fill="#fff" />
<rect x="98" y="443" width="4" height="5" fill="#fff" />
<rect x="104" y="427" width="4" height="6" fill="#fff" />
<rect x="104" y="443" width="4" height="5" fill="#fff" />
<rect x="110" y="427" width="4" height="6" fill="#fff" />
<rect x="110" y="443" width="4" height="5" fill="#fff" />
<rect x="116" y="427" width="4" height="6" fill="#fff" />
<rect x="116" y="443" width="4" height="5" fill="#fff" />
<rect x="122" y="427" width="4" height="6" fill="#fff" />
<rect x="122" y="443" width="4" height="5" fill="#fff" />
<rect x="128" y="427" width="4" height="6" fill="#fff" />
<rect x="128" y="443" width="4" height="5" fill="#fff" />
<rect x="134" y="427" width="4" height="6" fill="#fff" />
<rect x="134" y="443" width="4" height="5" fill="#fff" />
<rect x="139" y="427" width="4" height="6" fill="#fff" />
<rect x="139" y="443" width="4" height="5" fill="#fff" />
<rect x="145" y="427" width="4" height="6" fill="#fff" />
<rect x="145" y="443" width="4" height="5" fill="#fff" />
<rect x="72" y="435" width="72" height="5" fill="#fff" />
<rect x="149" y="435" width="2" height="5" fill="#fff" />
<rect x="67" y="451" width="84" height="25" fill="#000" />
<rect x="69" y="453" width="4" height="6" fill="#fff" />
<rect x="69" y="469" width="4" height="5" fill="#fff" />
<rect x="75" y="453" width="4" height="6" fill="#fff" />
<rect x="75" y="469" width="4" height="5" fill="#fff" />
<rect x="81" y="453" width="4" height="6" fill="#fff" />
<rect x="81" y="469" width="4" height="5" fill="#fff" />
<rect x="87" y="453" width="4" height="6" fill="#fff" />
<rect x="87" y="469" width="4" height="5" fill="#fff" />
<rect x="93" y="453" width="4" height="6" fill="#fff" />
<rect x="93" y="469" width="4" height="5" fill="#fff" />
<rect x="98" y="453" width="4" height="6" fill="#fff" />
<rect x="98" y="469" width="4" height="5" fill="#fff" />
<rect x="104" y="453" width="4" height="6" fill="#fff" />
<rect x="104" y="469" width="4" height="5" fill="#fff" />
<rect x="110" y="453" width="4" height="6" fill="#fff" />
<rect x="110" y="469" width="4" height="5" fill="#fff" />
<rect x="116" y="453" width="4" height="6" fill="#fff" />
<rect x="116" y="469" width="4" height="5" fill="#fff" />
<rect x="122" y="453" width="4" height="6" fill="#fff" />
<rect x="122" y="469" width="4" height="5" fill="#fff" />
<rect x="128" y="453" width="4" height="6" fill="#fff" />
<rect x="128" y="469" width="4" height="5" fill="#fff" />
<rect x="134" y="453" width="4" height="6" fill="#fff" />
<rect x="134" y="469" width="4" height="5" fill="#fff" />
<rect x="139" y="453" width="4" height="6" fill="#fff" />
<rect x="139" y="469" width="4" height="5" fill="#fff" />
<rect x="145" y="453" width="4" height="6" fill="#fff" />
<rect x="145" y="469" width="4" height="5" fill="#fff" />
<rect x="72" y="461" width="72" height="5" fill="#fff" />
<rect x="149" y="461" width="2" height="5" fill="#fff" />
<rect x="67" y="477" width="84" height="25" fill="#000" />
<rect x="69" y="479" width="4" height="6" fill="#fff" />
<rect x="69" y="495" width="4" height="5" fill="#fff" />
<rect x="75" y="479" width="4" height="6" fill="#fff" />
<rect x="75" y="495" width="4" height="5" fill="#fff" />
<rect x="81" y="479" width="4" height="6" fill="#fff" />
<rect x="81" y="495" width="4" height="5" fill="#fff" />
<rect x="87" y="479" width="4" height="6" fill="#fff" />
<rect x="87" y="495" width="4" height="5" fill="#fff" />
<rect x="93" y="479" width="4" height="6" fill="#fff" />
<rect x="93" y="495" width="4" height="5" fill="#fff" />
<rect x="98" y="479" width="4" height="6" fill="#fff" />
<rect x="98" y="495" width="4" height="5" fill="#fff" />
<rect x="104" y="479" width="4" height="6" fill="#fff" />
<rect x="104" y="495" width="4" height="5" fill="#fff" />
<rect x="110" y="479" width="4" height="6" fill="#fff" />
<rect x="110" y="495" width="4" height="5" fill="#fff" />
<rect x="116" y="479" width="4" height="6" fill="#fff" />
<rect x="116" y="495" width="4" height="5" fill="#fff" />
<rect x="122" y="479" width="4" height="6" fill="#fff" />
<rect x="122" y="495" width="4" height="5" fill="#fff" />
<rect x="128" y="479" width="4" height="6" fill="#fff" />
<rect x="128" y="495" width="4" height="5" fill="#fff" />
<rect x="134" y="479" width="4" height="6" fill="#fff" />
<rect x="134" y="495" width="4" height="5" fill="#fff" />
<rect x="139" y="479" width="4" height="6" fill="#fff" />
<rect x="139" y="495" width="4" height="5" fill="#fff" />
<rect x="145" y="479" width="4" height="6" fill="#fff" />
<rect x="145" y="495" width="4" height="5" fill="#fff" />
<rect x="72" y="487" width="72" height="5" fill="#fff" />
<rect x="149" y="487" width="2" height="5" fill="#fff" />
<rect x="67" y="424" width="84" height="1" fill="#fff" />
<rect x="67" y="450" width="84" height="1" fill="#fff" />
<rect x="67" y="476" width="84" height="1" fill="#fff" />
<rect x="163" y="399" width="85" height="25" fill="#000" />
<rect x="165" y="401" width="4" height="6" fill="#fff" />
<rect x="165" y="417" width="4" height="5" fill="#fff" />
<rect x="171" y="401" width="4" height="6" fill="#fff" />
<rect x="171" y="417" width="4" height="5" fill="#fff" />
<rect x="177" y="401" width="4" height="6" fill="#fff" />
<rect x="177" y="417" width="4" height="5" fill="#fff" />
<rect x="183" y="401" width="4" height="6" fill="#fff" />
<rect x="183" y="417" width="4" height="5" fill="#fff" />
<rect x="189" y="401" width="4" height="6" fill="#fff" />
<rect x="189" y="417" width="4" height="5" fill="#fff" />
<rect x="194" y="401" width="4" height="6" fill="#fff" />
<rect x="194" y="417" width="4" height="5" fill="#fff" />
<rect x="200" y="401" width="4" height="6" fill="#fff" />
<rect x="200" y="417" width="4" height="5" fill="#fff" />
<rect x="206" y="401" width="4" height="6" fill="#fff" />
<rect x="206" y="417" width="4" height="5" fill="#fff" />
<rect x="212" y="401" width="4" height="6" fill="#fff" />
<rect x="212" y="417" width="4" height="5" fill="#fff" />
<rect x="218" y="401" width="4" height="6" fill="#fff" />
<rect x="218" y="417" width="4" height="5" fill="#fff" />
<rect x="224" y="401" width="4" height="6" fill="#fff" />
<rect x="224" y="417" width="4" height="5" fill="#fff" />
<rect x="230" y="401" width="4" height="6" fill="#fff" />
<rect x="230" y="417" width="4" height="5" fill="#fff" />
<rect x="235" y="401" width="4" height="6" fill="#fff" />
<rect x="235" y="417" width="4" height="5" fill="#fff" />
<rect x="241" y="401" width="4" height="6" fill="#fff" />
<rect x="241" y="417" width="4" height="5" fill="#fff" />
<rect x="168" y="409" width="73" height="5" fill="#fff" />
<rect x="246" y="409" width="2" height="5" fill="#fff" />
<rect x="163" y="425" width="85" height="25" fill="#000" />
<rect x="165" y="427" width="4" height="6" fill="#fff" />
<rect x="165" y="443" width="4" height="5" fill="#fff" />
<rect x="171" y="427" width="4" height="6" fill="#fff" />
<rect x="171" y="443" width="4" height="5" fill="#fff" />
<rect x="177" y="427" width="4" height="6" fill="#fff" />
<rect x="177" y="443" width="4" height="5" fill="#fff" />
<rect x="183" y="427" width="4" height="6" fill="#fff" />
<rect x="183" y="443" width="4" height="5" fill="#fff" />
<rect x="189" y="427" width="4" height="6" fill="#fff" />
<rect x="189" y="443" width="4" height="5" fill="#fff" />
<rect x="194" y="427" width="4" height="6" fill="#fff" />
<rect x="194" y="443" width="4" height="5" fill="#fff" />
<rect x="200" y="427" width="4" height="6" fill="#fff" />
<rect x="200" y="443" width="4" height="5" fill="#fff" />
<rect x="206" y="427" width="4" height="6" fill="#fff" />
<rect x="206" y="443" width="4" height="5" fill="#fff" />
<rect x="212" y="427" width="4" height="6" fill="#fff" />
<rect x="212" y="443" width="4" height="5" fill="#fff" />
<rect x="218" y="427" width="4" height="6" fill="#fff" />
<rect x="218" y="443" width="4" height="5" fill="#fff" />
<rect x="224" y="427" width="4" height="6" fill="#fff" />
<rect x="224" y="443" width="4" height="5" fill="#fff" />
<rect x="230" y="427" width="4" height="6" fill="#fff" />
<rect x="230" y="443" width="4" height="5" fill="#fff" />
<rect x="235" y="427" width="4" height="6" fill="#fff" />
<rect x="235" y="443" width="4" height="5" fill="#fff" />
<rect x="241" y="427" width="4" height="6" fill="#fff" />
<rect x="241" y="443" width="4" height="5" fill="#fff" />
<rect x="168" y="435" width="73" height="5" fill="#fff" />
<rect x="246" y="435" width="2" height="5" fill="#fff" />
<rect x="163" y="451" width="85" height="25" fill="#000" />
<rect x="165" y="453" width="4" height="6" fill="#fff" />
<rect x="165" y="469" width="4" height="5" fill="#fff" />
<rect x="171" y="453" width="4" height="6" fill="#fff" />
<rect x="171" y="469" width="4" height="5" fill="#fff" />
<rect x="177" y="453" width="4" height="6" fill="#fff" />
<rect x="177" y="469" width="4" height="5" fill="#fff" />
<rect x="183" y="453" width="4" height="6" fill="#fff" />
<rect x="183" y="469" width="4" height="5" fill="#fff" />
<rect x="189" y="453" width="4" height="6" fill="#fff" />
<rect x="189" y="469" width="4" height="5" fill="#fff" />
<rect x="194" y="453" width="4" height="6" fill="#fff" />
<rect x="194" y="469" width="4" height="5" fill="#fff" />
<rect x="200" y="453" width="4" height="6" fill="#fff" />
<rect x="200" y="469" width="4" height="5" fill="#fff" />
<rect x="206" y="453" width="4" height="6" fill="#fff" />
<rect x="206" y="469" width="4" height="5" fill="#fff" />
<rect x="212" y="453" width="4" height="6" fill="#fff" />
<rect x="212" y="469" width="4" height="5" fill="#fff" />
<rect x="218" y="453" width="4" height="6" fill="#fff" />
<rect x="218" y="469" width="4" height="5" fill="#fff" />
<rect x="224" y="453" width="4" height="6" fill="#fff" />
<rect x="224" y="469" width="4" height="5" fill="#fff" />
<rect x="230" y="453" width="4" height="6" fill="#fff" />
<rect x="230" y="469" width="4" height="5" fill="#fff" />
<rect x="235" y="453" width="4" height="6" fill="#fff" />
<rect x="235" y="469" width="4" height="5" fill="#fff" />
<rect x="241" y="453" width="4" height="6" fill="#fff" />
<rect x="241" y="469" width="4" height="5" fill="#fff" />
<rect x="168" y="461" width="73" height="5" fill="#fff" />
<rect x="246" y="461" width="2" height="5" fill="#fff" />
<rect x="163" y="477" width="85" height="25" fill="#000" />
<rect x="165" y="479" width="4" height="6" fill="#fff" />
<rect x="165" y="495" width="4" height="5" fill="#fff" />
<rect x="171" y="479" width="4" height="6" fill="#fff" />
<rect x="171" y="495" width="4" height="5" fill="#fff" />
<rect x="177" y="479" width="4" height="6" fill="#fff" />
<rect x="177" y="495" width="4" height="5" fill="#fff" />
<rect x="183" y="479" width="4" height="6" fill="#fff" />
<rect x="183" y="495" width="4" height="5" fill="#fff" />
<rect x="189" y="479" width="4" height="6" fill="#fff" />
<rect x="189" y="495" width="4" height="5" fill="#fff" />
<rect x="194" y="479" width="4" height="6" fill="#fff" />
<rect x="194" y="495" width="4" height="5" fill="#fff" />
<rect x="200" y="479" width="4" height="6" fill="#fff" />
<rect x="200" y="495" width="4" height="5" fill="#fff" />
<rect x="206" y="479" width="4" height="6" fill="#fff" />
<rect x="206" y="495" width="4" height="5" fill="#fff" />
<rect x="212" y="479" width="4" height="6" fill="#fff" />
<rect x="212" y="495" width="4" height="5" fill="#fff" />
<rect x="218" y="479" width="4" height="6" fill="#fff" />
<rect x="218" y="495" width="4" height="5" fill="#fff" />
<rect x="224" y="479" width="4" height="6" fill="#fff" />
<rect x="224" y="495" width="4" height="5" fill="#fff" />
<rect x="230" y="479" width="4" height="6" fill="#fff" />
<rect x="230" y="495" width="4" height="5" fill="#fff" />
<rect x="235" y="479" width="4" height="6" fill="#fff" />
<rect x="235" y="495" width="4" height="5" fill="#fff" />
<rect x="241" y="479" width="4" height="6" fill="#fff" />
<rect x="241" y="495" width="4" height="5" fill="#fff" />
<rect x="168" y="487" width="73" height="5" fill="#fff" />
<rect x="246" y="487" width="2" height="5" fill="#fff" />
<rect x="163" y="424" width="85" height="1" fill="#fff" />
<rect x="163" y="450" width="85" height="1" fill="#fff" />
<rect x="163" y="476" width="85" height="1" fill="#fff" />
<rect x="105" y="409" width="5" height="83" fill="#000" />
<rect x="100.4" y="411.4" width="17.2" height="77.2" fill="#000" />
<rect x="102" y="413" width="14" height="74" rx="2" fill="#fff"/>
<text transform="translate(105.84,424.30) scale(0.680,1)" font-size="13.37" fill="#000" >B</text>
<text transform="translate(105.97,439.50) scale(0.680,1)" font-size="13.37" fill="#000" >A</text>
<text transform="translate(105.71,454.70) scale(0.680,1)" font-size="13.37" fill="#000" >N</text>
<text transform="translate(105.65,469.90) scale(0.680,1)" font-size="13.37" fill="#000" >K</text>
<text transform="translate(106.48,484.60) scale(0.680,1)" font-size="13.18" fill="#000" >0</text>
<rect x="201" y="409" width="6" height="83" fill="#000" />
<rect x="197.4" y="411.4" width="17.2" height="77.2" fill="#000" />
<rect x="199" y="413" width="14" height="74" rx="2" fill="#fff"/>
<text transform="translate(202.84,424.30) scale(0.680,1)" font-size="13.37" fill="#000" >B</text>
<text transform="translate(202.97,439.50) scale(0.680,1)" font-size="13.37" fill="#000" >A</text>
<text transform="translate(202.71,454.70) scale(0.680,1)" font-size="13.37" fill="#000" >N</text>
<text transform="translate(202.65,469.90) scale(0.680,1)" font-size="13.37" fill="#000" >K</text>
<rect x="206.44" y="475.40" width="1.1" height="9.20" fill="#000"/>
<line x1="204.24" y1="477.80" x2="206.74" y2="475.80" stroke="#000" stroke-width="1"/>
<rect x="130" y="440" width="55" height="20" fill="#000" />
<rect x="134" y="443" width="46" height="14" fill="#fff" />
<text transform="translate(134.53,453.70) scale(0.646,1)" font-size="14.18" fill="#000" >C</text>
<text transform="translate(144.08,453.70) scale(0.671,1)" font-size="14.39" fill="#000" >A</text>
<text transform="translate(152.42,453.70) scale(0.668,1)" font-size="14.18" fill="#000" >C</text>
<text transform="translate(163.12,453.70) scale(0.746,1)" font-size="14.39" fill="#000" >H</text>
<text transform="translate(172.23,453.70) scale(0.654,1)" font-size="14.39" fill="#000" >E</text>
<rect x="360.5" y="315.5" width="226" height="18" fill="none" stroke="#000" stroke-width="1" rx="0" />
<rect x="361" y="319" width="7" height="1" fill="#000" />
<rect x="361" y="326" width="7" height="1" fill="#000" />
<rect x="368" y="317" width="4" height="17" fill="#000" />
<rect x="372" y="318" width="10" height="1" fill="#000" />
<rect x="381" y="318" width="1" height="11" fill="#000" />
<rect x="379" y="328" width="3" height="1" fill="#000" />
<rect x="379" y="326" width="1" height="7" fill="#000" />
<rect x="374" y="326" width="6" height="1" fill="#000" />
<rect x="374" y="326" width="1" height="3" fill="#000" />
<rect x="372" y="328" width="3" height="1" fill="#000" />
<rect x="386" y="318" width="175" height="8" fill="#000" />
<rect x="387" y="325" width="174" height="7" fill="#000" />
<rect x="389" y="319" width="4" height="6" fill="#fff" />
<rect x="391" y="327" width="1" height="4" fill="#fff" />
<rect x="395" y="319" width="4" height="6" fill="#fff" />
<rect x="397" y="327" width="1" height="4" fill="#fff" />
<rect x="401" y="319" width="4" height="6" fill="#fff" />
<rect x="403" y="327" width="1" height="4" fill="#fff" />
<rect x="407" y="319" width="4" height="6" fill="#fff" />
<rect x="409" y="327" width="1" height="4" fill="#fff" />
<rect x="413" y="319" width="4" height="6" fill="#fff" />
<rect x="415" y="327" width="1" height="4" fill="#fff" />
<rect x="418" y="319" width="4" height="6" fill="#fff" />
<rect x="420" y="327" width="1" height="4" fill="#fff" />
<rect x="424" y="319" width="4" height="6" fill="#fff" />
<rect x="426" y="327" width="1" height="4" fill="#fff" />
<rect x="430" y="319" width="4" height="6" fill="#fff" />
<rect x="432" y="327" width="1" height="4" fill="#fff" />
<rect x="436" y="319" width="4" height="6" fill="#fff" />
<rect x="438" y="327" width="1" height="4" fill="#fff" />
<rect x="442" y="319" width="4" height="6" fill="#fff" />
<rect x="444" y="327" width="1" height="4" fill="#fff" />
<rect x="448" y="319" width="4" height="6" fill="#fff" />
<rect x="450" y="327" width="1" height="4" fill="#fff" />
<rect x="454" y="319" width="4" height="6" fill="#fff" />
<rect x="456" y="327" width="1" height="4" fill="#fff" />
<rect x="460" y="319" width="4" height="6" fill="#fff" />
<rect x="462" y="327" width="1" height="4" fill="#fff" />
<rect x="466" y="319" width="4" height="6" fill="#fff" />
<rect x="468" y="327" width="1" height="4" fill="#fff" />
<rect x="471" y="319" width="4" height="6" fill="#fff" />
<rect x="473" y="327" width="1" height="4" fill="#fff" />
<rect x="477" y="319" width="4" height="6" fill="#fff" />
<rect x="479" y="327" width="1" height="4" fill="#fff" />
<rect x="483" y="319" width="4" height="6" fill="#fff" />
<rect x="485" y="327" width="1" height="4" fill="#fff" />
<rect x="489" y="319" width="4" height="6" fill="#fff" />
<rect x="491" y="327" width="1" height="4" fill="#fff" />
<rect x="495" y="319" width="4" height="6" fill="#fff" />
<rect x="497" y="327" width="1" height="4" fill="#fff" />
<rect x="501" y="319" width="4" height="6" fill="#fff" />
<rect x="503" y="327" width="1" height="4" fill="#fff" />
<rect x="507" y="319" width="4" height="6" fill="#fff" />
<rect x="509" y="327" width="1" height="4" fill="#fff" />
<rect x="513" y="319" width="4" height="6" fill="#fff" />
<rect x="515" y="327" width="1" height="4" fill="#fff" />
<rect x="518" y="319" width="4" height="6" fill="#fff" />
<rect x="520" y="327" width="1" height="4" fill="#fff" />
<rect x="524" y="319" width="4" height="6" fill="#fff" />
<rect x="526" y="327" width="1" height="4" fill="#fff" />
<rect x="530" y="319" width="4" height="6" fill="#fff" />
<rect x="532" y="327" width="1" height="4" fill="#fff" />
<rect x="536" y="319" width="4" height="6" fill="#fff" />
<rect x="538" y="327" width="1" height="4" fill="#fff" />
<rect x="542" y="319" width="4" height="6" fill="#fff" />
<rect x="544" y="327" width="1" height="4" fill="#fff" />
<rect x="548" y="319" width="4" height="6" fill="#fff" />
<rect x="550" y="327" width="1" height="4" fill="#fff" />
<rect x="554" y="319" width="4" height="6" fill="#fff" />
<rect x="556" y="327" width="1" height="4" fill="#fff" />
<rect x="565" y="319" width="10" height="1" fill="#000" />
<rect x="565" y="319" width="1" height="10" fill="#000" />
<rect x="565" y="328" width="3" height="1" fill="#000" />
<rect x="567" y="326" width="1" height="7" fill="#000" />
<rect x="567" y="326" width="6" height="1" fill="#000" />
<rect x="572" y="326" width="1" height="3" fill="#000" />
<rect x="572" y="328" width="3" height="1" fill="#000" />
<rect x="575" y="317" width="4" height="17" fill="#000" />
<rect x="579.5" y="320.5" width="7" height="7" fill="none" stroke="#000" stroke-width="1" rx="0" />
<rect x="360.5" y="335.5" width="226" height="18" fill="none" stroke="#000" stroke-width="1" rx="0" />
<rect x="361" y="339" width="7" height="1" fill="#000" />
<rect x="361" y="346" width="7" height="1" fill="#000" />
<rect x="368" y="337" width="4" height="17" fill="#000" />
<rect x="372" y="338" width="10" height="1" fill="#000" />
<rect x="381" y="338" width="1" height="11" fill="#000" />
<rect x="379" y="348" width="3" height="1" fill="#000" />
<rect x="379" y="346" width="1" height="7" fill="#000" />
<rect x="374" y="346" width="6" height="1" fill="#000" />
<rect x="374" y="346" width="1" height="3" fill="#000" />
<rect x="372" y="348" width="3" height="1" fill="#000" />
<rect x="386" y="338" width="175" height="8" fill="#000" />
<rect x="387" y="345" width="174" height="7" fill="#000" />
<rect x="389" y="339" width="4" height="6" fill="#fff" />
<rect x="391" y="347" width="1" height="4" fill="#fff" />
<rect x="393" y="338" width="1" height="1" fill="#fff" />
<rect x="395" y="339" width="4" height="6" fill="#fff" />
<rect x="397" y="347" width="1" height="4" fill="#fff" />
<rect x="399" y="338" width="1" height="1" fill="#fff" />
<rect x="401" y="339" width="4" height="6" fill="#fff" />
<rect x="403" y="347" width="1" height="4" fill="#fff" />
<rect x="405" y="338" width="1" height="1" fill="#fff" />
<rect x="407" y="339" width="4" height="6" fill="#fff" />
<rect x="409" y="347" width="1" height="4" fill="#fff" />
<rect x="411" y="338" width="1" height="1" fill="#fff" />
<rect x="413" y="339" width="4" height="6" fill="#fff" />
<rect x="415" y="347" width="1" height="4" fill="#fff" />
<rect x="417" y="338" width="1" height="1" fill="#fff" />
<rect x="418" y="339" width="4" height="6" fill="#fff" />
<rect x="420" y="347" width="1" height="4" fill="#fff" />
<rect x="422" y="338" width="1" height="1" fill="#fff" />
<rect x="424" y="339" width="4" height="6" fill="#fff" />
<rect x="426" y="347" width="1" height="4" fill="#fff" />
<rect x="428" y="338" width="1" height="1" fill="#fff" />
<rect x="430" y="339" width="4" height="6" fill="#fff" />
<rect x="432" y="347" width="1" height="4" fill="#fff" />
<rect x="434" y="338" width="1" height="1" fill="#fff" />
<rect x="436" y="339" width="4" height="6" fill="#fff" />
<rect x="438" y="347" width="1" height="4" fill="#fff" />
<rect x="440" y="338" width="1" height="1" fill="#fff" />
<rect x="442" y="339" width="4" height="6" fill="#fff" />
<rect x="444" y="347" width="1" height="4" fill="#fff" />
<rect x="446" y="338" width="1" height="1" fill="#fff" />
<rect x="448" y="339" width="4" height="6" fill="#fff" />
<rect x="450" y="347" width="1" height="4" fill="#fff" />
<rect x="452" y="338" width="1" height="1" fill="#fff" />
<rect x="454" y="339" width="4" height="6" fill="#fff" />
<rect x="456" y="347" width="1" height="4" fill="#fff" />
<rect x="458" y="338" width="1" height="1" fill="#fff" />
<rect x="460" y="339" width="4" height="6" fill="#fff" />
<rect x="462" y="347" width="1" height="4" fill="#fff" />
<rect x="464" y="338" width="1" height="1" fill="#fff" />
<rect x="466" y="339" width="4" height="6" fill="#fff" />
<rect x="468" y="347" width="1" height="4" fill="#fff" />
<rect x="470" y="338" width="1" height="1" fill="#fff" />
<rect x="471" y="339" width="4" height="6" fill="#fff" />
<rect x="473" y="347" width="1" height="4" fill="#fff" />
<rect x="475" y="338" width="1" height="1" fill="#fff" />
<rect x="477" y="339" width="4" height="6" fill="#fff" />
<rect x="479" y="347" width="1" height="4" fill="#fff" />
<rect x="481" y="338" width="1" height="1" fill="#fff" />
<rect x="483" y="339" width="4" height="6" fill="#fff" />
<rect x="485" y="347" width="1" height="4" fill="#fff" />
<rect x="487" y="338" width="1" height="1" fill="#fff" />
<rect x="489" y="339" width="4" height="6" fill="#fff" />
<rect x="491" y="347" width="1" height="4" fill="#fff" />
<rect x="493" y="338" width="1" height="1" fill="#fff" />
<rect x="495" y="339" width="4" height="6" fill="#fff" />
<rect x="497" y="347" width="1" height="4" fill="#fff" />
<rect x="499" y="338" width="1" height="1" fill="#fff" />
<rect x="501" y="339" width="4" height="6" fill="#fff" />
<rect x="503" y="347" width="1" height="4" fill="#fff" />
<rect x="505" y="338" width="1" height="1" fill="#fff" />
<rect x="507" y="339" width="4" height="6" fill="#fff" />
<rect x="509" y="347" width="1" height="4" fill="#fff" />
<rect x="511" y="338" width="1" height="1" fill="#fff" />
<rect x="513" y="339" width="4" height="6" fill="#fff" />
<rect x="515" y="347" width="1" height="4" fill="#fff" />
<rect x="517" y="338" width="1" height="1" fill="#fff" />
<rect x="518" y="339" width="4" height="6" fill="#fff" />
<rect x="520" y="347" width="1" height="4" fill="#fff" />
<rect x="522" y="338" width="1" height="1" fill="#fff" />
<rect x="524" y="339" width="4" height="6" fill="#fff" />
<rect x="526" y="347" width="1" height="4" fill="#fff" />
<rect x="528" y="338" width="1" height="1" fill="#fff" />
<rect x="530" y="339" width="4" height="6" fill="#fff" />
<rect x="532" y="347" width="1" height="4" fill="#fff" />
<rect x="534" y="338" width="1" height="1" fill="#fff" />
<rect x="536" y="339" width="4" height="6" fill="#fff" />
<rect x="538" y="347" width="1" height="4" fill="#fff" />
<rect x="540" y="338" width="1" height="1" fill="#fff" />
<rect x="542" y="339" width="4" height="6" fill="#fff" />
<rect x="544" y="347" width="1" height="4" fill="#fff" />
<rect x="546" y="338" width="1" height="1" fill="#fff" />
<rect x="548" y="339" width="4" height="6" fill="#fff" />
<rect x="550" y="347" width="1" height="4" fill="#fff" />
<rect x="552" y="338" width="1" height="1" fill="#fff" />
<rect x="554" y="339" width="4" height="6" fill="#fff" />
<rect x="556" y="347" width="1" height="4" fill="#fff" />
<rect x="558" y="338" width="1" height="1" fill="#fff" />
<rect x="565" y="339" width="10" height="1" fill="#000" />
<rect x="565" y="339" width="1" height="10" fill="#000" />
<rect x="565" y="348" width="3" height="1" fill="#000" />
<rect x="567" y="346" width="1" height="7" fill="#000" />
<rect x="567" y="346" width="6" height="1" fill="#000" />
<rect x="572" y="346" width="1" height="3" fill="#000" />
<rect x="572" y="348" width="3" height="1" fill="#000" />
<rect x="575" y="337" width="4" height="17" fill="#000" />
<rect x="579.5" y="340.5" width="7" height="7" fill="none" stroke="#000" stroke-width="1" rx="0" />
<rect x="360.5" y="354.5" width="226" height="18" fill="none" stroke="#000" stroke-width="1" rx="0" />
<rect x="361" y="358" width="7" height="1" fill="#000" />
<rect x="361" y="365" width="7" height="1" fill="#000" />
<rect x="368" y="356" width="4" height="17" fill="#000" />
<rect x="372" y="357" width="10" height="1" fill="#000" />
<rect x="381" y="357" width="1" height="11" fill="#000" />
<rect x="379" y="367" width="3" height="1" fill="#000" />
<rect x="379" y="365" width="1" height="7" fill="#000" />
<rect x="374" y="365" width="6" height="1" fill="#000" />
<rect x="374" y="365" width="1" height="3" fill="#000" />
<rect x="372" y="367" width="3" height="1" fill="#000" />
<rect x="386" y="357" width="175" height="8" fill="#000" />
<rect x="387" y="364" width="174" height="7" fill="#000" />
<rect x="389" y="358" width="4" height="6" fill="#fff" />
<rect x="391" y="366" width="1" height="4" fill="#fff" />
<rect x="393" y="357" width="1" height="1" fill="#fff" />
<rect x="395" y="358" width="4" height="6" fill="#fff" />
<rect x="397" y="366" width="1" height="4" fill="#fff" />
<rect x="399" y="357" width="1" height="1" fill="#fff" />
<rect x="401" y="358" width="4" height="6" fill="#fff" />
<rect x="403" y="366" width="1" height="4" fill="#fff" />
<rect x="405" y="357" width="1" height="1" fill="#fff" />
<rect x="407" y="358" width="4" height="6" fill="#fff" />
<rect x="409" y="366" width="1" height="4" fill="#fff" />
<rect x="411" y="357" width="1" height="1" fill="#fff" />
<rect x="413" y="358" width="4" height="6" fill="#fff" />
<rect x="415" y="366" width="1" height="4" fill="#fff" />
<rect x="417" y="357" width="1" height="1" fill="#fff" />
<rect x="418" y="358" width="4" height="6" fill="#fff" />
<rect x="420" y="366" width="1" height="4" fill="#fff" />
<rect x="422" y="357" width="1" height="1" fill="#fff" />
<rect x="424" y="358" width="4" height="6" fill="#fff" />
<rect x="426" y="366" width="1" height="4" fill="#fff" />
<rect x="428" y="357" width="1" height="1" fill="#fff" />
<rect x="430" y="358" width="4" height="6" fill="#fff" />
<rect x="432" y="366" width="1" height="4" fill="#fff" />
<rect x="434" y="357" width="1" height="1" fill="#fff" />
<rect x="436" y="358" width="4" height="6" fill="#fff" />
<rect x="438" y="366" width="1" height="4" fill="#fff" />
<rect x="440" y="357" width="1" height="1" fill="#fff" />
<rect x="442" y="358" width="4" height="6" fill="#fff" />
<rect x="444" y="366" width="1" height="4" fill="#fff" />
<rect x="446" y="357" width="1" height="1" fill="#fff" />
<rect x="448" y="358" width="4" height="6" fill="#fff" />
<rect x="450" y="366" width="1" height="4" fill="#fff" />
<rect x="452" y="357" width="1" height="1" fill="#fff" />
<rect x="454" y="358" width="4" height="6" fill="#fff" />
<rect x="456" y="366" width="1" height="4" fill="#fff" />
<rect x="458" y="357" width="1" height="1" fill="#fff" />
<rect x="460" y="358" width="4" height="6" fill="#fff" />
<rect x="462" y="366" width="1" height="4" fill="#fff" />
<rect x="464" y="357" width="1" height="1" fill="#fff" />
<rect x="466" y="358" width="4" height="6" fill="#fff" />
<rect x="468" y="366" width="1" height="4" fill="#fff" />
<rect x="470" y="357" width="1" height="1" fill="#fff" />
<rect x="471" y="358" width="4" height="6" fill="#fff" />
<rect x="473" y="366" width="1" height="4" fill="#fff" />
<rect x="475" y="357" width="1" height="1" fill="#fff" />
<rect x="477" y="358" width="4" height="6" fill="#fff" />
<rect x="479" y="366" width="1" height="4" fill="#fff" />
<rect x="481" y="357" width="1" height="1" fill="#fff" />
<rect x="483" y="358" width="4" height="6" fill="#fff" />
<rect x="485" y="366" width="1" height="4" fill="#fff" />
<rect x="487" y="357" width="1" height="1" fill="#fff" />
<rect x="489" y="358" width="4" height="6" fill="#fff" />
<rect x="491" y="366" width="1" height="4" fill="#fff" />
<rect x="493" y="357" width="1" height="1" fill="#fff" />
<rect x="495" y="358" width="4" height="6" fill="#fff" />
<rect x="497" y="366" width="1" height="4" fill="#fff" />
<rect x="499" y="357" width="1" height="1" fill="#fff" />
<rect x="501" y="358" width="4" height="6" fill="#fff" />
<rect x="503" y="366" width="1" height="4" fill="#fff" />
<rect x="505" y="357" width="1" height="1" fill="#fff" />
<rect x="507" y="358" width="4" height="6" fill="#fff" />
<rect x="509" y="366" width="1" height="4" fill="#fff" />
<rect x="511" y="357" width="1" height="1" fill="#fff" />
<rect x="513" y="358" width="4" height="6" fill="#fff" />
<rect x="515" y="366" width="1" height="4" fill="#fff" />
<rect x="517" y="357" width="1" height="1" fill="#fff" />
<rect x="518" y="358" width="4" height="6" fill="#fff" />
<rect x="520" y="366" width="1" height="4" fill="#fff" />
<rect x="522" y="357" width="1" height="1" fill="#fff" />
<rect x="524" y="358" width="4" height="6" fill="#fff" />
<rect x="526" y="366" width="1" height="4" fill="#fff" />
<rect x="528" y="357" width="1" height="1" fill="#fff" />
<rect x="530" y="358" width="4" height="6" fill="#fff" />
<rect x="532" y="366" width="1" height="4" fill="#fff" />
<rect x="534" y="357" width="1" height="1" fill="#fff" />
<rect x="536" y="358" width="4" height="6" fill="#fff" />
<rect x="538" y="366" width="1" height="4" fill="#fff" />
<rect x="540" y="357" width="1" height="1" fill="#fff" />
<rect x="542" y="358" width="4" height="6" fill="#fff" />
<rect x="544" y="366" width="1" height="4" fill="#fff" />
<rect x="546" y="357" width="1" height="1" fill="#fff" />
<rect x="548" y="358" width="4" height="6" fill="#fff" />
<rect x="550" y="366" width="1" height="4" fill="#fff" />
<rect x="552" y="357" width="1" height="1" fill="#fff" />
<rect x="554" y="358" width="4" height="6" fill="#fff" />
<rect x="556" y="366" width="1" height="4" fill="#fff" />
<rect x="558" y="357" width="1" height="1" fill="#fff" />
<rect x="565" y="358" width="10" height="1" fill="#000" />
<rect x="565" y="358" width="1" height="10" fill="#000" />
<rect x="565" y="367" width="3" height="1" fill="#000" />
<rect x="567" y="365" width="1" height="7" fill="#000" />
<rect x="567" y="365" width="6" height="1" fill="#000" />
<rect x="572" y="365" width="1" height="3" fill="#000" />
<rect x="572" y="367" width="3" height="1" fill="#000" />
<rect x="575" y="356" width="4" height="17" fill="#000" />
<rect x="579.5" y="359.5" width="7" height="7" fill="none" stroke="#000" stroke-width="1" rx="0" />
<rect x="360.5" y="374.5" width="226" height="18" fill="none" stroke="#000" stroke-width="1" rx="0" />
<rect x="361" y="378" width="7" height="1" fill="#000" />
<rect x="361" y="385" width="7" height="1" fill="#000" />
<rect x="368" y="376" width="4" height="17" fill="#000" />
<rect x="372" y="377" width="10" height="1" fill="#000" />
<rect x="381" y="377" width="1" height="11" fill="#000" />
<rect x="379" y="387" width="3" height="1" fill="#000" />
<rect x="379" y="385" width="1" height="7" fill="#000" />
<rect x="374" y="385" width="6" height="1" fill="#000" />
<rect x="374" y="385" width="1" height="3" fill="#000" />
<rect x="372" y="387" width="3" height="1" fill="#000" />
<rect x="386" y="377" width="175" height="8" fill="#000" />
<rect x="387" y="384" width="174" height="7" fill="#000" />
<rect x="389" y="378" width="4" height="6" fill="#fff" />
<rect x="391" y="386" width="1" height="4" fill="#fff" />
<rect x="393" y="377" width="1" height="1" fill="#fff" />
<rect x="395" y="378" width="4" height="6" fill="#fff" />
<rect x="397" y="386" width="1" height="4" fill="#fff" />
<rect x="399" y="377" width="1" height="1" fill="#fff" />
<rect x="401" y="378" width="4" height="6" fill="#fff" />
<rect x="403" y="386" width="1" height="4" fill="#fff" />
<rect x="405" y="377" width="1" height="1" fill="#fff" />
<rect x="407" y="378" width="4" height="6" fill="#fff" />
<rect x="409" y="386" width="1" height="4" fill="#fff" />
<rect x="411" y="377" width="1" height="1" fill="#fff" />
<rect x="413" y="378" width="4" height="6" fill="#fff" />
<rect x="415" y="386" width="1" height="4" fill="#fff" />
<rect x="417" y="377" width="1" height="1" fill="#fff" />
<rect x="418" y="378" width="4" height="6" fill="#fff" />
<rect x="420" y="386" width="1" height="4" fill="#fff" />
<rect x="422" y="377" width="1" height="1" fill="#fff" />
<rect x="424" y="378" width="4" height="6" fill="#fff" />
<rect x="426" y="386" width="1" height="4" fill="#fff" />
<rect x="428" y="377" width="1" height="1" fill="#fff" />
<rect x="430" y="378" width="4" height="6" fill="#fff" />
<rect x="432" y="386" width="1" height="4" fill="#fff" />
<rect x="434" y="377" width="1" height="1" fill="#fff" />
<rect x="436" y="378" width="4" height="6" fill="#fff" />
<rect x="438" y="386" width="1" height="4" fill="#fff" />
<rect x="440" y="377" width="1" height="1" fill="#fff" />
<rect x="442" y="378" width="4" height="6" fill="#fff" />
<rect x="444" y="386" width="1" height="4" fill="#fff" />
<rect x="446" y="377" width="1" height="1" fill="#fff" />
<rect x="448" y="378" width="4" height="6" fill="#fff" />
<rect x="450" y="386" width="1" height="4" fill="#fff" />
<rect x="452" y="377" width="1" height="1" fill="#fff" />
<rect x="454" y="378" width="4" height="6" fill="#fff" />
<rect x="456" y="386" width="1" height="4" fill="#fff" />
<rect x="458" y="377" width="1" height="1" fill="#fff" />
<rect x="460" y="378" width="4" height="6" fill="#fff" />
<rect x="462" y="386" width="1" height="4" fill="#fff" />
<rect x="464" y="377" width="1" height="1" fill="#fff" />
<rect x="466" y="378" width="4" height="6" fill="#fff" />
<rect x="468" y="386" width="1" height="4" fill="#fff" />
<rect x="470" y="377" width="1" height="1" fill="#fff" />
<rect x="471" y="378" width="4" height="6" fill="#fff" />
<rect x="473" y="386" width="1" height="4" fill="#fff" />
<rect x="475" y="377" width="1" height="1" fill="#fff" />
<rect x="477" y="378" width="4" height="6" fill="#fff" />
<rect x="479" y="386" width="1" height="4" fill="#fff" />
<rect x="481" y="377" width="1" height="1" fill="#fff" />
<rect x="483" y="378" width="4" height="6" fill="#fff" />
<rect x="485" y="386" width="1" height="4" fill="#fff" />
<rect x="487" y="377" width="1" height="1" fill="#fff" />
<rect x="489" y="378" width="4" height="6" fill="#fff" />
<rect x="491" y="386" width="1" height="4" fill="#fff" />
<rect x="493" y="377" width="1" height="1" fill="#fff" />
<rect x="495" y="378" width="4" height="6" fill="#fff" />
<rect x="497" y="386" width="1" height="4" fill="#fff" />
<rect x="499" y="377" width="1" height="1" fill="#fff" />
<rect x="501" y="378" width="4" height="6" fill="#fff" />
<rect x="503" y="386" width="1" height="4" fill="#fff" />
<rect x="505" y="377" width="1" height="1" fill="#fff" />
<rect x="507" y="378" width="4" height="6" fill="#fff" />
<rect x="509" y="386" width="1" height="4" fill="#fff" />
<rect x="511" y="377" width="1" height="1" fill="#fff" />
<rect x="513" y="378" width="4" height="6" fill="#fff" />
<rect x="515" y="386" width="1" height="4" fill="#fff" />
<rect x="517" y="377" width="1" height="1" fill="#fff" />
<rect x="518" y="378" width="4" height="6" fill="#fff" />
<rect x="520" y="386" width="1" height="4" fill="#fff" />
<rect x="522" y="377" width="1" height="1" fill="#fff" />
<rect x="524" y="378" width="4" height="6" fill="#fff" />
<rect x="526" y="386" width="1" height="4" fill="#fff" />
<rect x="528" y="377" width="1" height="1" fill="#fff" />
<rect x="530" y="378" width="4" height="6" fill="#fff" />
<rect x="532" y="386" width="1" height="4" fill="#fff" />
<rect x="534" y="377" width="1" height="1" fill="#fff" />
<rect x="536" y="378" width="4" height="6" fill="#fff" />
<rect x="538" y="386" width="1" height="4" fill="#fff" />
<rect x="540" y="377" width="1" height="1" fill="#fff" />
<rect x="542" y="378" width="4" height="6" fill="#fff" />
<rect x="544" y="386" width="1" height="4" fill="#fff" />
<rect x="546" y="377" width="1" height="1" fill="#fff" />
<rect x="548" y="378" width="4" height="6" fill="#fff" />
<rect x="550" y="386" width="1" height="4" fill="#fff" />
<rect x="552" y="377" width="1" height="1" fill="#fff" />
<rect x="554" y="378" width="4" height="6" fill="#fff" />
<rect x="556" y="386" width="1" height="4" fill="#fff" />
<rect x="558" y="377" width="1" height="1" fill="#fff" />
<rect x="565" y="378" width="10" height="1" fill="#000" />
<rect x="565" y="378" width="1" height="10" fill="#000" />
<rect x="565" y="387" width="3" height="1" fill="#000" />
<rect x="567" y="385" width="1" height="7" fill="#000" />
<rect x="567" y="385" width="6" height="1" fill="#000" />
<rect x="572" y="385" width="1" height="3" fill="#000" />
<rect x="572" y="387" width="3" height="1" fill="#000" />
<rect x="575" y="376" width="4" height="17" fill="#000" />
<rect x="579.5" y="379.5" width="7" height="7" fill="none" stroke="#000" stroke-width="1" rx="0" />
<rect x="360.5" y="398.5" width="226" height="18" fill="none" stroke="#000" stroke-width="1" rx="0" />
<rect x="361" y="402" width="7" height="1" fill="#000" />
<rect x="361" y="409" width="7" height="1" fill="#000" />
<rect x="368" y="400" width="4" height="17" fill="#000" />
<rect x="372" y="401" width="10" height="1" fill="#000" />
<rect x="381" y="401" width="1" height="11" fill="#000" />
<rect x="379" y="411" width="3" height="1" fill="#000" />
<rect x="379" y="409" width="1" height="7" fill="#000" />
<rect x="374" y="409" width="6" height="1" fill="#000" />
<rect x="374" y="409" width="1" height="3" fill="#000" />
<rect x="372" y="411" width="3" height="1" fill="#000" />
<rect x="386" y="401" width="175" height="8" fill="#000" />
<rect x="387" y="408" width="174" height="7" fill="#000" />
<rect x="389" y="402" width="4" height="6" fill="#fff" />
<rect x="391" y="410" width="1" height="4" fill="#fff" />
<rect x="393" y="401" width="1" height="1" fill="#fff" />
<rect x="395" y="402" width="4" height="6" fill="#fff" />
<rect x="397" y="410" width="1" height="4" fill="#fff" />
<rect x="399" y="401" width="1" height="1" fill="#fff" />
<rect x="401" y="402" width="4" height="6" fill="#fff" />
<rect x="403" y="410" width="1" height="4" fill="#fff" />
<rect x="405" y="401" width="1" height="1" fill="#fff" />
<rect x="407" y="402" width="4" height="6" fill="#fff" />
<rect x="409" y="410" width="1" height="4" fill="#fff" />
<rect x="411" y="401" width="1" height="1" fill="#fff" />
<rect x="413" y="402" width="4" height="6" fill="#fff" />
<rect x="415" y="410" width="1" height="4" fill="#fff" />
<rect x="417" y="401" width="1" height="1" fill="#fff" />
<rect x="418" y="402" width="4" height="6" fill="#fff" />
<rect x="420" y="410" width="1" height="4" fill="#fff" />
<rect x="422" y="401" width="1" height="1" fill="#fff" />
<rect x="424" y="402" width="4" height="6" fill="#fff" />
<rect x="426" y="410" width="1" height="4" fill="#fff" />
<rect x="428" y="401" width="1" height="1" fill="#fff" />
<rect x="430" y="402" width="4" height="6" fill="#fff" />
<rect x="432" y="410" width="1" height="4" fill="#fff" />
<rect x="434" y="401" width="1" height="1" fill="#fff" />
<rect x="436" y="402" width="4" height="6" fill="#fff" />
<rect x="438" y="410" width="1" height="4" fill="#fff" />
<rect x="440" y="401" width="1" height="1" fill="#fff" />
<rect x="442" y="402" width="4" height="6" fill="#fff" />
<rect x="444" y="410" width="1" height="4" fill="#fff" />
<rect x="446" y="401" width="1" height="1" fill="#fff" />
<rect x="448" y="402" width="4" height="6" fill="#fff" />
<rect x="450" y="410" width="1" height="4" fill="#fff" />
<rect x="452" y="401" width="1" height="1" fill="#fff" />
<rect x="454" y="402" width="4" height="6" fill="#fff" />
<rect x="456" y="410" width="1" height="4" fill="#fff" />
<rect x="458" y="401" width="1" height="1" fill="#fff" />
<rect x="460" y="402" width="4" height="6" fill="#fff" />
<rect x="462" y="410" width="1" height="4" fill="#fff" />
<rect x="464" y="401" width="1" height="1" fill="#fff" />
<rect x="466" y="402" width="4" height="6" fill="#fff" />
<rect x="468" y="410" width="1" height="4" fill="#fff" />
<rect x="470" y="401" width="1" height="1" fill="#fff" />
<rect x="471" y="402" width="4" height="6" fill="#fff" />
<rect x="473" y="410" width="1" height="4" fill="#fff" />
<rect x="475" y="401" width="1" height="1" fill="#fff" />
<rect x="477" y="402" width="4" height="6" fill="#fff" />
<rect x="479" y="410" width="1" height="4" fill="#fff" />
<rect x="481" y="401" width="1" height="1" fill="#fff" />
<rect x="483" y="402" width="4" height="6" fill="#fff" />
<rect x="485" y="410" width="1" height="4" fill="#fff" />
<rect x="487" y="401" width="1" height="1" fill="#fff" />
<rect x="489" y="402" width="4" height="6" fill="#fff" />
<rect x="491" y="410" width="1" height="4" fill="#fff" />
<rect x="493" y="401" width="1" height="1" fill="#fff" />
<rect x="495" y="402" width="4" height="6" fill="#fff" />
<rect x="497" y="410" width="1" height="4" fill="#fff" />
<rect x="499" y="401" width="1" height="1" fill="#fff" />
<rect x="501" y="402" width="4" height="6" fill="#fff" />
<rect x="503" y="410" width="1" height="4" fill="#fff" />
<rect x="505" y="401" width="1" height="1" fill="#fff" />
<rect x="507" y="402" width="4" height="6" fill="#fff" />
<rect x="509" y="410" width="1" height="4" fill="#fff" />
<rect x="511" y="401" width="1" height="1" fill="#fff" />
<rect x="513" y="402" width="4" height="6" fill="#fff" />
<rect x="515" y="410" width="1" height="4" fill="#fff" />
<rect x="517" y="401" width="1" height="1" fill="#fff" />
<rect x="518" y="402" width="4" height="6" fill="#fff" />
<rect x="520" y="410" width="1" height="4" fill="#fff" />
<rect x="522" y="401" width="1" height="1" fill="#fff" />
<rect x="524" y="402" width="4" height="6" fill="#fff" />
<rect x="526" y="410" width="1" height="4" fill="#fff" />
<rect x="528" y="401" width="1" height="1" fill="#fff" />
<rect x="530" y="402" width="4" height="6" fill="#fff" />
<rect x="532" y="410" width="1" height="4" fill="#fff" />
<rect x="534" y="401" width="1" height="1" fill="#fff" />
<rect x="536" y="402" width="4" height="6" fill="#fff" />
<rect x="538" y="410" width="1" height="4" fill="#fff" />
<rect x="540" y="401" width="1" height="1" fill="#fff" />
<rect x="542" y="402" width="4" height="6" fill="#fff" />
<rect x="544" y="410" width="1" height="4" fill="#fff" />
<rect x="546" y="401" width="1" height="1" fill="#fff" />
<rect x="548" y="402" width="4" height="6" fill="#fff" />
<rect x="550" y="410" width="1" height="4" fill="#fff" />
<rect x="552" y="401" width="1" height="1" fill="#fff" />
<rect x="554" y="402" width="4" height="6" fill="#fff" />
<rect x="556" y="410" width="1" height="4" fill="#fff" />
<rect x="558" y="401" width="1" height="1" fill="#fff" />
<rect x="565" y="402" width="10" height="1" fill="#000" />
<rect x="565" y="402" width="1" height="10" fill="#000" />
<rect x="565" y="411" width="3" height="1" fill="#000" />
<rect x="567" y="409" width="1" height="7" fill="#000" />
<rect x="567" y="409" width="6" height="1" fill="#000" />
<rect x="572" y="409" width="1" height="3" fill="#000" />
<rect x="572" y="411" width="3" height="1" fill="#000" />
<rect x="575" y="400" width="4" height="17" fill="#000" />
<rect x="579.5" y="403.5" width="7" height="7" fill="none" stroke="#000" stroke-width="1" rx="0" />
<rect x="360.5" y="418.5" width="226" height="18" fill="none" stroke="#000" stroke-width="1" rx="0" />
<rect x="361" y="422" width="7" height="1" fill="#000" />
<rect x="361" y="429" width="7" height="1" fill="#000" />
<rect x="368" y="420" width="4" height="17" fill="#000" />
<rect x="372" y="421" width="10" height="1" fill="#000" />
<rect x="381" y="421" width="1" height="11" fill="#000" />
<rect x="379" y="431" width="3" height="1" fill="#000" />
<rect x="379" y="429" width="1" height="7" fill="#000" />
<rect x="374" y="429" width="6" height="1" fill="#000" />
<rect x="374" y="429" width="1" height="3" fill="#000" />
<rect x="372" y="431" width="3" height="1" fill="#000" />
<rect x="386" y="421" width="175" height="8" fill="#000" />
<rect x="387" y="428" width="174" height="7" fill="#000" />
<rect x="389" y="422" width="4" height="6" fill="#fff" />
<rect x="391" y="430" width="1" height="4" fill="#fff" />
<rect x="393" y="421" width="1" height="1" fill="#fff" />
<rect x="395" y="422" width="4" height="6" fill="#fff" />
<rect x="397" y="430" width="1" height="4" fill="#fff" />
<rect x="399" y="421" width="1" height="1" fill="#fff" />
<rect x="401" y="422" width="4" height="6" fill="#fff" />
<rect x="403" y="430" width="1" height="4" fill="#fff" />
<rect x="405" y="421" width="1" height="1" fill="#fff" />
<rect x="407" y="422" width="4" height="6" fill="#fff" />
<rect x="409" y="430" width="1" height="4" fill="#fff" />
<rect x="411" y="421" width="1" height="1" fill="#fff" />
<rect x="413" y="422" width="4" height="6" fill="#fff" />
<rect x="415" y="430" width="1" height="4" fill="#fff" />
<rect x="417" y="421" width="1" height="1" fill="#fff" />
<rect x="418" y="422" width="4" height="6" fill="#fff" />
<rect x="420" y="430" width="1" height="4" fill="#fff" />
<rect x="422" y="421" width="1" height="1" fill="#fff" />
<rect x="424" y="422" width="4" height="6" fill="#fff" />
<rect x="426" y="430" width="1" height="4" fill="#fff" />
<rect x="428" y="421" width="1" height="1" fill="#fff" />
<rect x="430" y="422" width="4" height="6" fill="#fff" />
<rect x="432" y="430" width="1" height="4" fill="#fff" />
<rect x="434" y="421" width="1" height="1" fill="#fff" />
<rect x="436" y="422" width="4" height="6" fill="#fff" />
<rect x="438" y="430" width="1" height="4" fill="#fff" />
<rect x="440" y="421" width="1" height="1" fill="#fff" />
<rect x="442" y="422" width="4" height="6" fill="#fff" />
<rect x="444" y="430" width="1" height="4" fill="#fff" />
<rect x="446" y="421" width="1" height="1" fill="#fff" />
<rect x="448" y="422" width="4" height="6" fill="#fff" />
<rect x="450" y="430" width="1" height="4" fill="#fff" />
<rect x="452" y="421" width="1" height="1" fill="#fff" />
<rect x="454" y="422" width="4" height="6" fill="#fff" />
<rect x="456" y="430" width="1" height="4" fill="#fff" />
<rect x="458" y="421" width="1" height="1" fill="#fff" />
<rect x="460" y="422" width="4" height="6" fill="#fff" />
<rect x="462" y="430" width="1" height="4" fill="#fff" />
<rect x="464" y="421" width="1" height="1" fill="#fff" />
<rect x="466" y="422" width="4" height="6" fill="#fff" />
<rect x="468" y="430" width="1" height="4" fill="#fff" />
<rect x="470" y="421" width="1" height="1" fill="#fff" />
<rect x="471" y="422" width="4" height="6" fill="#fff" />
<rect x="473" y="430" width="1" height="4" fill="#fff" />
<rect x="475" y="421" width="1" height="1" fill="#fff" />
<rect x="477" y="422" width="4" height="6" fill="#fff" />
<rect x="479" y="430" width="1" height="4" fill="#fff" />
<rect x="481" y="421" width="1" height="1" fill="#fff" />
<rect x="483" y="422" width="4" height="6" fill="#fff" />
<rect x="485" y="430" width="1" height="4" fill="#fff" />
<rect x="487" y="421" width="1" height="1" fill="#fff" />
<rect x="489" y="422" width="4" height="6" fill="#fff" />
<rect x="491" y="430" width="1" height="4" fill="#fff" />
<rect x="493" y="421" width="1" height="1" fill="#fff" />
<rect x="495" y="422" width="4" height="6" fill="#fff" />
<rect x="497" y="430" width="1" height="4" fill="#fff" />
<rect x="499" y="421" width="1" height="1" fill="#fff" />
<rect x="501" y="422" width="4" height="6" fill="#fff" />
<rect x="503" y="430" width="1" height="4" fill="#fff" />
<rect x="505" y="421" width="1" height="1" fill="#fff" />
<rect x="507" y="422" width="4" height="6" fill="#fff" />
<rect x="509" y="430" width="1" height="4" fill="#fff" />
<rect x="511" y="421" width="1" height="1" fill="#fff" />
<rect x="513" y="422" width="4" height="6" fill="#fff" />
<rect x="515" y="430" width="1" height="4" fill="#fff" />
<rect x="517" y="421" width="1" height="1" fill="#fff" />
<rect x="518" y="422" width="4" height="6" fill="#fff" />
<rect x="520" y="430" width="1" height="4" fill="#fff" />
<rect x="522" y="421" width="1" height="1" fill="#fff" />
<rect x="524" y="422" width="4" height="6" fill="#fff" />
<rect x="526" y="430" width="1" height="4" fill="#fff" />
<rect x="528" y="421" width="1" height="1" fill="#fff" />
<rect x="530" y="422" width="4" height="6" fill="#fff" />
<rect x="532" y="430" width="1" height="4" fill="#fff" />
<rect x="534" y="421" width="1" height="1" fill="#fff" />
<rect x="536" y="422" width="4" height="6" fill="#fff" />
<rect x="538" y="430" width="1" height="4" fill="#fff" />
<rect x="540" y="421" width="1" height="1" fill="#fff" />
<rect x="542" y="422" width="4" height="6" fill="#fff" />
<rect x="544" y="430" width="1" height="4" fill="#fff" />
<rect x="546" y="421" width="1" height="1" fill="#fff" />
<rect x="548" y="422" width="4" height="6" fill="#fff" />
<rect x="550" y="430" width="1" height="4" fill="#fff" />
<rect x="552" y="421" width="1" height="1" fill="#fff" />
<rect x="554" y="422" width="4" height="6" fill="#fff" />
<rect x="556" y="430" width="1" height="4" fill="#fff" />
<rect x="558" y="421" width="1" height="1" fill="#fff" />
<rect x="565" y="422" width="10" height="1" fill="#000" />
<rect x="565" y="422" width="1" height="10" fill="#000" />
<rect x="565" y="431" width="3" height="1" fill="#000" />
<rect x="567" y="429" width="1" height="7" fill="#000" />
<rect x="567" y="429" width="6" height="1" fill="#000" />
<rect x="572" y="429" width="1" height="3" fill="#000" />
<rect x="572" y="431" width="3" height="1" fill="#000" />
<rect x="575" y="420" width="4" height="17" fill="#000" />
<rect x="579.5" y="423.5" width="7" height="7" fill="none" stroke="#000" stroke-width="1" rx="0" />
<rect x="360.5" y="438.5" width="226" height="18" fill="none" stroke="#000" stroke-width="1" rx="0" />
<rect x="361" y="442" width="7" height="1" fill="#000" />
<rect x="361" y="449" width="7" height="1" fill="#000" />
<rect x="368" y="440" width="4" height="17" fill="#000" />
<rect x="372" y="441" width="10" height="1" fill="#000" />
<rect x="381" y="441" width="1" height="11" fill="#000" />
<rect x="379" y="451" width="3" height="1" fill="#000" />
<rect x="379" y="449" width="1" height="7" fill="#000" />
<rect x="374" y="449" width="6" height="1" fill="#000" />
<rect x="374" y="449" width="1" height="3" fill="#000" />
<rect x="372" y="451" width="3" height="1" fill="#000" />
<rect x="386" y="441" width="175" height="8" fill="#000" />
<rect x="387" y="448" width="174" height="7" fill="#000" />
<rect x="389" y="442" width="4" height="6" fill="#fff" />
<rect x="391" y="450" width="1" height="4" fill="#fff" />
<rect x="393" y="441" width="1" height="1" fill="#fff" />
<rect x="395" y="442" width="4" height="6" fill="#fff" />
<rect x="397" y="450" width="1" height="4" fill="#fff" />
<rect x="399" y="441" width="1" height="1" fill="#fff" />
<rect x="401" y="442" width="4" height="6" fill="#fff" />
<rect x="403" y="450" width="1" height="4" fill="#fff" />
<rect x="405" y="441" width="1" height="1" fill="#fff" />
<rect x="407" y="442" width="4" height="6" fill="#fff" />
<rect x="409" y="450" width="1" height="4" fill="#fff" />
<rect x="411" y="441" width="1" height="1" fill="#fff" />
<rect x="413" y="442" width="4" height="6" fill="#fff" />
<rect x="415" y="450" width="1" height="4" fill="#fff" />
<rect x="417" y="441" width="1" height="1" fill="#fff" />
<rect x="418" y="442" width="4" height="6" fill="#fff" />
<rect x="420" y="450" width="1" height="4" fill="#fff" />
<rect x="422" y="441" width="1" height="1" fill="#fff" />
<rect x="424" y="442" width="4" height="6" fill="#fff" />
<rect x="426" y="450" width="1" height="4" fill="#fff" />
<rect x="428" y="441" width="1" height="1" fill="#fff" />
<rect x="430" y="442" width="4" height="6" fill="#fff" />
<rect x="432" y="450" width="1" height="4" fill="#fff" />
<rect x="434" y="441" width="1" height="1" fill="#fff" />
<rect x="436" y="442" width="4" height="6" fill="#fff" />
<rect x="438" y="450" width="1" height="4" fill="#fff" />
<rect x="440" y="441" width="1" height="1" fill="#fff" />
<rect x="442" y="442" width="4" height="6" fill="#fff" />
<rect x="444" y="450" width="1" height="4" fill="#fff" />
<rect x="446" y="441" width="1" height="1" fill="#fff" />
<rect x="448" y="442" width="4" height="6" fill="#fff" />
<rect x="450" y="450" width="1" height="4" fill="#fff" />
<rect x="452" y="441" width="1" height="1" fill="#fff" />
<rect x="454" y="442" width="4" height="6" fill="#fff" />
<rect x="456" y="450" width="1" height="4" fill="#fff" />
<rect x="458" y="441" width="1" height="1" fill="#fff" />
<rect x="460" y="442" width="4" height="6" fill="#fff" />
<rect x="462" y="450" width="1" height="4" fill="#fff" />
<rect x="464" y="441" width="1" height="1" fill="#fff" />
<rect x="466" y="442" width="4" height="6" fill="#fff" />
<rect x="468" y="450" width="1" height="4" fill="#fff" />
<rect x="470" y="441" width="1" height="1" fill="#fff" />
<rect x="471" y="442" width="4" height="6" fill="#fff" />
<rect x="473" y="450" width="1" height="4" fill="#fff" />
<rect x="475" y="441" width="1" height="1" fill="#fff" />
<rect x="477" y="442" width="4" height="6" fill="#fff" />
<rect x="479" y="450" width="1" height="4" fill="#fff" />
<rect x="481" y="441" width="1" height="1" fill="#fff" />
<rect x="483" y="442" width="4" height="6" fill="#fff" />
<rect x="485" y="450" width="1" height="4" fill="#fff" />
<rect x="487" y="441" width="1" height="1" fill="#fff" />
<rect x="489" y="442" width="4" height="6" fill="#fff" />
<rect x="491" y="450" width="1" height="4" fill="#fff" />
<rect x="493" y="441" width="1" height="1" fill="#fff" />
<rect x="495" y="442" width="4" height="6" fill="#fff" />
<rect x="497" y="450" width="1" height="4" fill="#fff" />
<rect x="499" y="441" width="1" height="1" fill="#fff" />
<rect x="501" y="442" width="4" height="6" fill="#fff" />
<rect x="503" y="450" width="1" height="4" fill="#fff" />
<rect x="505" y="441" width="1" height="1" fill="#fff" />
<rect x="507" y="442" width="4" height="6" fill="#fff" />
<rect x="509" y="450" width="1" height="4" fill="#fff" />
<rect x="511" y="441" width="1" height="1" fill="#fff" />
<rect x="513" y="442" width="4" height="6" fill="#fff" />
<rect x="515" y="450" width="1" height="4" fill="#fff" />
<rect x="517" y="441" width="1" height="1" fill="#fff" />
<rect x="518" y="442" width="4" height="6" fill="#fff" />
<rect x="520" y="450" width="1" height="4" fill="#fff" />
<rect x="522" y="441" width="1" height="1" fill="#fff" />
<rect x="524" y="442" width="4" height="6" fill="#fff" />
<rect x="526" y="450" width="1" height="4" fill="#fff" />
<rect x="528" y="441" width="1" height="1" fill="#fff" />
<rect x="530" y="442" width="4" height="6" fill="#fff" />
<rect x="532" y="450" width="1" height="4" fill="#fff" />
<rect x="534" y="441" width="1" height="1" fill="#fff" />
<rect x="536" y="442" width="4" height="6" fill="#fff" />
<rect x="538" y="450" width="1" height="4" fill="#fff" />
<rect x="540" y="441" width="1" height="1" fill="#fff" />
<rect x="542" y="442" width="4" height="6" fill="#fff" />
<rect x="544" y="450" width="1" height="4" fill="#fff" />
<rect x="546" y="441" width="1" height="1" fill="#fff" />
<rect x="548" y="442" width="4" height="6" fill="#fff" />
<rect x="550" y="450" width="1" height="4" fill="#fff" />
<rect x="552" y="441" width="1" height="1" fill="#fff" />
<rect x="554" y="442" width="4" height="6" fill="#fff" />
<rect x="556" y="450" width="1" height="4" fill="#fff" />
<rect x="558" y="441" width="1" height="1" fill="#fff" />
<rect x="565" y="442" width="10" height="1" fill="#000" />
<rect x="565" y="442" width="1" height="10" fill="#000" />
<rect x="565" y="451" width="3" height="1" fill="#000" />
<rect x="567" y="449" width="1" height="7" fill="#000" />
<rect x="567" y="449" width="6" height="1" fill="#000" />
<rect x="572" y="449" width="1" height="3" fill="#000" />
<rect x="572" y="451" width="3" height="1" fill="#000" />
<rect x="575" y="440" width="4" height="17" fill="#000" />
<rect x="579.5" y="443.5" width="7" height="7" fill="none" stroke="#000" stroke-width="1" rx="0" />
<rect x="360.5" y="457.5" width="226" height="18" fill="none" stroke="#000" stroke-width="1" rx="0" />
<rect x="361" y="461" width="7" height="1" fill="#000" />
<rect x="361" y="468" width="7" height="1" fill="#000" />
<rect x="368" y="459" width="4" height="17" fill="#000" />
<rect x="372" y="460" width="10" height="1" fill="#000" />
<rect x="381" y="460" width="1" height="11" fill="#000" />
<rect x="379" y="470" width="3" height="1" fill="#000" />
<rect x="379" y="468" width="1" height="7" fill="#000" />
<rect x="374" y="468" width="6" height="1" fill="#000" />
<rect x="374" y="468" width="1" height="3" fill="#000" />
<rect x="372" y="470" width="3" height="1" fill="#000" />
<rect x="386" y="460" width="175" height="8" fill="#000" />
<rect x="387" y="467" width="174" height="7" fill="#000" />
<rect x="389" y="461" width="4" height="6" fill="#fff" />
<rect x="391" y="469" width="1" height="4" fill="#fff" />
<rect x="393" y="460" width="1" height="1" fill="#fff" />
<rect x="395" y="461" width="4" height="6" fill="#fff" />
<rect x="397" y="469" width="1" height="4" fill="#fff" />
<rect x="399" y="460" width="1" height="1" fill="#fff" />
<rect x="401" y="461" width="4" height="6" fill="#fff" />
<rect x="403" y="469" width="1" height="4" fill="#fff" />
<rect x="405" y="460" width="1" height="1" fill="#fff" />
<rect x="407" y="461" width="4" height="6" fill="#fff" />
<rect x="409" y="469" width="1" height="4" fill="#fff" />
<rect x="411" y="460" width="1" height="1" fill="#fff" />
<rect x="413" y="461" width="4" height="6" fill="#fff" />
<rect x="415" y="469" width="1" height="4" fill="#fff" />
<rect x="417" y="460" width="1" height="1" fill="#fff" />
<rect x="418" y="461" width="4" height="6" fill="#fff" />
<rect x="420" y="469" width="1" height="4" fill="#fff" />
<rect x="422" y="460" width="1" height="1" fill="#fff" />
<rect x="424" y="461" width="4" height="6" fill="#fff" />
<rect x="426" y="469" width="1" height="4" fill="#fff" />
<rect x="428" y="460" width="1" height="1" fill="#fff" />
<rect x="430" y="461" width="4" height="6" fill="#fff" />
<rect x="432" y="469" width="1" height="4" fill="#fff" />
<rect x="434" y="460" width="1" height="1" fill="#fff" />
<rect x="436" y="461" width="4" height="6" fill="#fff" />
<rect x="438" y="469" width="1" height="4" fill="#fff" />
<rect x="440" y="460" width="1" height="1" fill="#fff" />
<rect x="442" y="461" width="4" height="6" fill="#fff" />
<rect x="444" y="469" width="1" height="4" fill="#fff" />
<rect x="446" y="460" width="1" height="1" fill="#fff" />
<rect x="448" y="461" width="4" height="6" fill="#fff" />
<rect x="450" y="469" width="1" height="4" fill="#fff" />
<rect x="452" y="460" width="1" height="1" fill="#fff" />
<rect x="454" y="461" width="4" height="6" fill="#fff" />
<rect x="456" y="469" width="1" height="4" fill="#fff" />
<rect x="458" y="460" width="1" height="1" fill="#fff" />
<rect x="460" y="461" width="4" height="6" fill="#fff" />
<rect x="462" y="469" width="1" height="4" fill="#fff" />
<rect x="464" y="460" width="1" height="1" fill="#fff" />
<rect x="466" y="461" width="4" height="6" fill="#fff" />
<rect x="468" y="469" width="1" height="4" fill="#fff" />
<rect x="470" y="460" width="1" height="1" fill="#fff" />
<rect x="471" y="461" width="4" height="6" fill="#fff" />
<rect x="473" y="469" width="1" height="4" fill="#fff" />
<rect x="475" y="460" width="1" height="1" fill="#fff" />
<rect x="477" y="461" width="4" height="6" fill="#fff" />
<rect x="479" y="469" width="1" height="4" fill="#fff" />
<rect x="481" y="460" width="1" height="1" fill="#fff" />
<rect x="483" y="461" width="4" height="6" fill="#fff" />
<rect x="485" y="469" width="1" height="4" fill="#fff" />
<rect x="487" y="460" width="1" height="1" fill="#fff" />
<rect x="489" y="461" width="4" height="6" fill="#fff" />
<rect x="491" y="469" width="1" height="4" fill="#fff" />
<rect x="493" y="460" width="1" height="1" fill="#fff" />
<rect x="495" y="461" width="4" height="6" fill="#fff" />
<rect x="497" y="469" width="1" height="4" fill="#fff" />
<rect x="499" y="460" width="1" height="1" fill="#fff" />
<rect x="501" y="461" width="4" height="6" fill="#fff" />
<rect x="503" y="469" width="1" height="4" fill="#fff" />
<rect x="505" y="460" width="1" height="1" fill="#fff" />
<rect x="507" y="461" width="4" height="6" fill="#fff" />
<rect x="509" y="469" width="1" height="4" fill="#fff" />
<rect x="511" y="460" width="1" height="1" fill="#fff" />
<rect x="513" y="461" width="4" height="6" fill="#fff" />
<rect x="515" y="469" width="1" height="4" fill="#fff" />
<rect x="517" y="460" width="1" height="1" fill="#fff" />
<rect x="518" y="461" width="4" height="6" fill="#fff" />
<rect x="520" y="469" width="1" height="4" fill="#fff" />
<rect x="522" y="460" width="1" height="1" fill="#fff" />
<rect x="524" y="461" width="4" height="6" fill="#fff" />
<rect x="526" y="469" width="1" height="4" fill="#fff" />
<rect x="528" y="460" width="1" height="1" fill="#fff" />
<rect x="530" y="461" width="4" height="6" fill="#fff" />
<rect x="532" y="469" width="1" height="4" fill="#fff" />
<rect x="534" y="460" width="1" height="1" fill="#fff" />
<rect x="536" y="461" width="4" height="6" fill="#fff" />
<rect x="538" y="469" width="1" height="4" fill="#fff" />
<rect x="540" y="460" width="1" height="1" fill="#fff" />
<rect x="542" y="461" width="4" height="6" fill="#fff" />
<rect x="544" y="469" width="1" height="4" fill="#fff" />
<rect x="546" y="460" width="1" height="1" fill="#fff" />
<rect x="548" y="461" width="4" height="6" fill="#fff" />
<rect x="550" y="469" width="1" height="4" fill="#fff" />
<rect x="552" y="460" width="1" height="1" fill="#fff" />
<rect x="554" y="461" width="4" height="6" fill="#fff" />
<rect x="556" y="469" width="1" height="4" fill="#fff" />
<rect x="558" y="460" width="1" height="1" fill="#fff" />
<rect x="565" y="461" width="10" height="1" fill="#000" />
<rect x="565" y="461" width="1" height="10" fill="#000" />
<rect x="565" y="470" width="3" height="1" fill="#000" />
<rect x="567" y="468" width="1" height="7" fill="#000" />
<rect x="567" y="468" width="6" height="1" fill="#000" />
<rect x="572" y="468" width="1" height="3" fill="#000" />
<rect x="572" y="470" width="3" height="1" fill="#000" />
<rect x="575" y="459" width="4" height="17" fill="#000" />
<rect x="579.5" y="462.5" width="7" height="7" fill="none" stroke="#000" stroke-width="1" rx="0" />
<rect x="464" y="315" width="18" height="76" fill="#000" />
<rect x="466" y="317" width="14" height="72" rx="0" fill="#fff"/>
<text transform="translate(469.84,327.70) scale(0.680,1)" font-size="13.37" fill="#000" >B</text>
<text transform="translate(469.97,343.00) scale(0.680,1)" font-size="13.37" fill="#000" >A</text>
<text transform="translate(469.71,356.80) scale(0.680,1)" font-size="13.37" fill="#000" >N</text>
<text transform="translate(469.65,372.00) scale(0.680,1)" font-size="13.37" fill="#000" >K</text>
<text transform="translate(470.48,386.60) scale(0.680,1)" font-size="13.18" fill="#000" >0</text>
<rect x="464" y="398" width="18" height="76" fill="#000" />
<rect x="466" y="400" width="14" height="72" rx="0" fill="#fff"/>
<text transform="translate(469.84,410.50) scale(0.680,1)" font-size="13.37" fill="#000" >B</text>
<text transform="translate(469.97,425.90) scale(0.680,1)" font-size="13.37" fill="#000" >A</text>
<text transform="translate(469.71,440.40) scale(0.680,1)" font-size="13.37" fill="#000" >N</text>
<text transform="translate(469.65,455.70) scale(0.680,1)" font-size="13.37" fill="#000" >K</text>
<rect x="473.44" y="461.50" width="1.1" height="9.20" fill="#000"/>
<line x1="471.24" y1="463.90" x2="473.74" y2="461.90" stroke="#000" stroke-width="1"/>
<rect x="753" y="195" width="42" height="126" fill="#000" />
<line x1="754.5" y1="197" x2="754.5" y2="319" stroke="#fff" stroke-width="1" stroke-dasharray="3.5,2.5"/>
<rect x="768" y="320" width="12" height="1" fill="#fff" />
<polygon points="760.00,251.00 785.00,251.00 788.00,254.00 788.00,265.00 760.00,265.00" fill="#fff" />
<text transform="translate(761.14,262.90) scale(0.728,1)" font-size="14.39" fill="#000" >K</text>
<text transform="translate(770.48,262.90) scale(0.614,1)" font-size="14.39" fill="#000" >B</text>
<text transform="translate(779.34,262.90) scale(0.728,1)" font-size="14.39" fill="#000" >D</text>
<rect x="547.5" y="483.5" width="111" height="24" fill="none" stroke="#000" stroke-width="1" rx="0" />
<rect x="548" y="491" width="110" height="1" fill="#000" />
<rect x="549.5" y="487.5" width="6" height="2.5" rx="1" fill="none" stroke="#000" stroke-width="1"/>
<rect x="550" y="490" width="5" height="1" fill="#000" />
<rect x="549" y="494" width="7" height="2" fill="#000" />
<rect x="558.5" y="487.5" width="6" height="2.5" rx="1" fill="none" stroke="#000" stroke-width="1"/>
<rect x="559" y="490" width="5" height="1" fill="#000" />
<rect x="558" y="494" width="7" height="2" fill="#000" />
<rect x="568.5" y="487.5" width="6" height="2.5" rx="1" fill="none" stroke="#000" stroke-width="1"/>
<rect x="569" y="490" width="5" height="1" fill="#000" />
<rect x="568" y="494" width="7" height="2" fill="#000" />
<rect x="577.5" y="487.5" width="6" height="2.5" rx="1" fill="none" stroke="#000" stroke-width="1"/>
<rect x="578" y="490" width="5" height="1" fill="#000" />
<rect x="577" y="494" width="7" height="2" fill="#000" />
<rect x="586.5" y="487.5" width="6" height="2.5" rx="1" fill="none" stroke="#000" stroke-width="1"/>
<rect x="587" y="490" width="5" height="1" fill="#000" />
<rect x="586" y="494" width="7" height="2" fill="#000" />
<rect x="595.5" y="487.5" width="6" height="2.5" rx="1" fill="none" stroke="#000" stroke-width="1"/>
<rect x="596" y="490" width="5" height="1" fill="#000" />
<rect x="595" y="494" width="7" height="2" fill="#000" />
<rect x="604.5" y="487.5" width="6" height="2.5" rx="1" fill="none" stroke="#000" stroke-width="1"/>
<rect x="605" y="490" width="5" height="1" fill="#000" />
<rect x="604" y="494" width="7" height="2" fill="#000" />
<rect x="614.5" y="487.5" width="6" height="2.5" rx="1" fill="none" stroke="#000" stroke-width="1"/>
<rect x="615" y="490" width="5" height="1" fill="#000" />
<rect x="614" y="494" width="7" height="2" fill="#000" />
<rect x="623.5" y="487.5" width="6" height="2.5" rx="1" fill="none" stroke="#000" stroke-width="1"/>
<rect x="624" y="490" width="5" height="1" fill="#000" />
<rect x="623" y="494" width="7" height="2" fill="#000" />
<rect x="632.5" y="487.5" width="6" height="2.5" rx="1" fill="none" stroke="#000" stroke-width="1"/>
<rect x="633" y="490" width="5" height="1" fill="#000" />
<rect x="632" y="494" width="7" height="2" fill="#000" />
<rect x="641.5" y="487.5" width="6" height="2.5" rx="1" fill="none" stroke="#000" stroke-width="1"/>
<rect x="642" y="490" width="5" height="1" fill="#000" />
<rect x="641" y="494" width="7" height="2" fill="#000" />
<rect x="650.5" y="487.5" width="6" height="2.5" rx="1" fill="none" stroke="#000" stroke-width="1"/>
<rect x="651" y="490" width="5" height="1" fill="#000" />
<rect x="650" y="494" width="7" height="2" fill="#000" />
<rect x="553.5" y="497.5" width="6" height="7" fill="none" stroke="#000" stroke-width="1" rx="0" />
<rect x="562.5" y="497.5" width="6" height="7" fill="none" stroke="#000" stroke-width="1" rx="0" />
<rect x="572.5" y="497.5" width="6" height="7" fill="none" stroke="#000" stroke-width="1" rx="0" />
<rect x="581.5" y="497.5" width="6" height="7" fill="none" stroke="#000" stroke-width="1" rx="0" />
<rect x="590.5" y="497.5" width="6" height="7" fill="none" stroke="#000" stroke-width="1" rx="0" />
<rect x="599.5" y="497.5" width="6" height="7" fill="none" stroke="#000" stroke-width="1" rx="0" />
<rect x="609.5" y="497.5" width="6" height="7" fill="none" stroke="#000" stroke-width="1" rx="0" />
<rect x="618.5" y="497.5" width="6" height="7" fill="none" stroke="#000" stroke-width="1" rx="0" />
<rect x="627.5" y="497.5" width="6" height="7" fill="none" stroke="#000" stroke-width="1" rx="0" />
<rect x="636.5" y="497.5" width="6" height="7" fill="none" stroke="#000" stroke-width="1" rx="0" />
<rect x="646.5" y="497.5" width="6" height="7" fill="none" stroke="#000" stroke-width="1" rx="0" />
<rect x="547" y="498" width="1" height="6" fill="#fff" />
<rect x="546.5" y="497.5" width="2" height="2" fill="#fff" stroke="#000" stroke-width="1" rx="0" />
<rect x="546.5" y="502.5" width="2" height="2" fill="#fff" stroke="#000" stroke-width="1" rx="0" />
<rect x="658" y="498" width="1" height="6" fill="#fff" />
<rect x="657.5" y="497.5" width="2" height="2" fill="#fff" stroke="#000" stroke-width="1" rx="0" />
<rect x="657.5" y="502.5" width="2" height="2" fill="#fff" stroke="#000" stroke-width="1" rx="0" />
<path d="M779.4,400.7 L786.3,400.7 L786.3,399.3 L798.6,399.3 L802.7,400.7 L804.5,405.7 L803,410 L802.5,418 L803.5,420.5 L802.5,431 L804.5,434.5 L802.5,439 L800.5,440.6 L782,440.6 L779.5,438.6 L777.7,434.4 L779,431 L779.5,424 L777.7,420.7 L779.5,415 L779.5,410 L777.7,404 Z" fill="none" stroke="#000" stroke-width="1.3" stroke-linejoin="round"/>
<rect x="754" y="408" width="7" height="26" fill="#000" />
<rect x="755" y="409" width="5" height="1" fill="#fff" />
<rect x="756" y="411" width="3" height="3" fill="#fff" />
<rect x="755" y="415" width="5" height="1" fill="#fff" />
<rect x="755" y="420" width="5" height="2" fill="#fff" />
<rect x="755" y="426" width="5" height="2" fill="#fff" />
<rect x="755" y="432" width="5" height="1" fill="#fff" />
<rect x="704" y="413" width="34" height="17" rx="2.6" ry="2.6" fill="#fff" stroke="#000" stroke-width="2"/>
<polygon points="738.00,418.00 745.20,419.50 749.52,419.90 749.84,420.50 754.00,420.50 754.00,422.50 749.84,422.50 749.52,423.10 745.20,423.50 738.00,425.00" fill="#000" />
<polygon points="735.50,419.70 738.00,419.70 745.20,421.50 738.00,423.30 735.50,423.30" fill="#fff" />
<text transform="translate(707.38,426.00) scale(0.713,1)" font-size="14.18" fill="#000" >C</text>
<text transform="translate(718.18,426.00) scale(0.783,1)" font-size="14.39" fill="#000" >N</text>
<rect x="730.30" y="416.10" width="1.1" height="9.90" fill="#000"/>
<line x1="727.60" y1="418.50" x2="730.60" y2="416.50" stroke="#000" stroke-width="1"/>
<polygon points="782.00,456.00 806.00,456.00 806.00,453.00 809.00,453.00 809.00,450.00 812.00,450.00 812.00,500.00 809.00,500.00 809.00,497.00 806.00,497.00 806.00,494.00 782.00,494.00 782.00,487.00 779.00,487.00 779.00,463.00 782.00,463.00" fill="#000" shape-rendering="crispEdges"/>
<rect x="775.5" y="465.5" width="4" height="7" fill="#fff" stroke="#000" stroke-width="1" rx="0" />
<rect x="775.5" y="476.5" width="4" height="8" fill="#fff" stroke="#000" stroke-width="1" rx="0" />
<rect x="781" y="503" width="19" height="7" fill="#000" />
<rect x="782" y="504" width="16" height="1" fill="#fff" />
<rect x="786" y="505" width="2" height="4" fill="#fff" />
<rect x="792" y="505" width="2" height="4" fill="#fff" />
<rect x="795" y="506" width="2" height="2" fill="#fff" />
<rect x="798" y="504" width="1" height="5" fill="#fff" />
<rect x="731" y="499" width="34" height="16" rx="2.6" ry="2.6" fill="#fff" stroke="#000" stroke-width="2"/>
<rect x="733" y="498" width="30" height="2.5" fill="#000" />
<polygon points="765.00,503.20 772.20,505.00 776.52,505.40 776.84,506.00 781.00,506.00 781.00,508.00 776.84,508.00 776.52,508.60 772.20,509.00 765.00,510.80" fill="#000" />
<polygon points="762.50,505.00 765.00,505.00 772.20,507.00 765.00,509.00 762.50,509.00" fill="#fff" />
<text transform="translate(735.53,511.00) scale(0.729,1)" font-size="14.39" fill="#000" >J</text>
<text transform="translate(743.15,511.00) scale(0.718,1)" font-size="14.39" fill="#000" >P</text>
<text transform="translate(751.56,511.00) scale(0.762,1)" font-size="14.39" fill="#000" >5</text>
</svg></body></html>
